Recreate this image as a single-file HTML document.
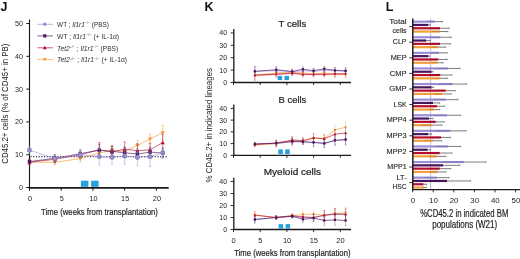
<!DOCTYPE html>
<html><head><meta charset="utf-8"><style>
html,body{margin:0;padding:0;background:#fff;width:520px;height:259px;overflow:hidden}
svg{display:block;will-change:transform}
text{font-family:"Liberation Sans", sans-serif}

</style></head><body>
<svg width="520" height="259" viewBox="0 0 520 259" font-family='"Liberation Sans", sans-serif'>
<rect width="520" height="259" fill="#fff"/>
<text x="0.6" y="11" font-size="12.5" text-anchor="start" font-weight="bold" font-style="normal" fill="#111" >J</text>
<line x1="29.50" y1="19.50" x2="29.50" y2="188.20" stroke="#1a1a1a" stroke-width="1.15" />
<line x1="26.30" y1="187.50" x2="29.50" y2="187.50" stroke="#1a1a1a" stroke-width="1.0" />
<text x="23" y="190.0" font-size="7.2" text-anchor="end" font-weight="normal" font-style="normal" fill="#1e1e1e" >0</text>
<line x1="26.30" y1="154.70" x2="29.50" y2="154.70" stroke="#1a1a1a" stroke-width="1.0" />
<text x="23" y="157.2" font-size="7.2" text-anchor="end" font-weight="normal" font-style="normal" fill="#1e1e1e" >10</text>
<line x1="26.30" y1="121.90" x2="29.50" y2="121.90" stroke="#1a1a1a" stroke-width="1.0" />
<text x="23" y="124.4" font-size="7.2" text-anchor="end" font-weight="normal" font-style="normal" fill="#1e1e1e" >20</text>
<line x1="26.30" y1="89.10" x2="29.50" y2="89.10" stroke="#1a1a1a" stroke-width="1.0" />
<text x="23" y="91.60000000000001" font-size="7.2" text-anchor="end" font-weight="normal" font-style="normal" fill="#1e1e1e" >30</text>
<line x1="26.30" y1="56.30" x2="29.50" y2="56.30" stroke="#1a1a1a" stroke-width="1.0" />
<text x="23" y="58.80000000000001" font-size="7.2" text-anchor="end" font-weight="normal" font-style="normal" fill="#1e1e1e" >40</text>
<line x1="26.30" y1="23.50" x2="29.50" y2="23.50" stroke="#1a1a1a" stroke-width="1.0" />
<text x="23" y="26.0" font-size="7.2" text-anchor="end" font-weight="normal" font-style="normal" fill="#1e1e1e" >50</text>
<line x1="28.80" y1="187.90" x2="168.70" y2="187.90" stroke="#1a1a1a" stroke-width="1.6" />
<line x1="29.50" y1="187.60" x2="29.50" y2="190.80" stroke="#1a1a1a" stroke-width="1.0" />
<text x="30.0" y="201.1" font-size="7.3" text-anchor="middle" font-weight="normal" font-style="normal" fill="#1e1e1e" >0</text>
<line x1="61.22" y1="187.60" x2="61.22" y2="190.80" stroke="#1a1a1a" stroke-width="1.0" />
<text x="61.724999999999994" y="201.1" font-size="7.3" text-anchor="middle" font-weight="normal" font-style="normal" fill="#1e1e1e" >5</text>
<line x1="92.95" y1="187.60" x2="92.95" y2="190.80" stroke="#1a1a1a" stroke-width="1.0" />
<text x="93.44999999999999" y="201.1" font-size="7.3" text-anchor="middle" font-weight="normal" font-style="normal" fill="#1e1e1e" >10</text>
<line x1="124.67" y1="187.60" x2="124.67" y2="190.80" stroke="#1a1a1a" stroke-width="1.0" />
<text x="125.175" y="201.1" font-size="7.3" text-anchor="middle" font-weight="normal" font-style="normal" fill="#1e1e1e" >15</text>
<line x1="156.40" y1="187.60" x2="156.40" y2="190.80" stroke="#1a1a1a" stroke-width="1.0" />
<text x="156.89999999999998" y="201.1" font-size="7.3" text-anchor="middle" font-weight="normal" font-style="normal" fill="#1e1e1e" >20</text>
<text x="41.1" y="215" font-size="9.8" text-anchor="start" font-weight="normal" font-style="normal" fill="#1e1e1e" textLength="116.8" lengthAdjust="spacingAndGlyphs" stroke="#1e1e1e" stroke-width="0.2">Time (weeks from transplantation)</text>
<text transform="translate(8.3,163.8) rotate(-90)" font-size="9.8" fill="#1e1e1e" textLength="120.2" lengthAdjust="spacingAndGlyphs">CD45.2+ cells (% of CD45+ in PB)</text>
<line x1="30.50" y1="156.67" x2="168.00" y2="156.67" stroke="#2a2a3a" stroke-width="1.1" stroke-dasharray="1.1 1.6"/>
<rect x="80.90" y="180.70" width="7.50" height="6.10" fill="#27a1dc" />
<rect x="91.10" y="180.70" width="7.50" height="6.10" fill="#27a1dc" />
<line x1="29.50" y1="159.62" x2="29.50" y2="164.87" stroke="#f09a30" stroke-width="0.7" opacity="0.75"/>
<line x1="28.30" y1="159.62" x2="30.70" y2="159.62" stroke="#f09a30" stroke-width="0.6" opacity="0.75"/>
<line x1="28.30" y1="164.87" x2="30.70" y2="164.87" stroke="#f09a30" stroke-width="0.6" opacity="0.75"/>
<line x1="54.88" y1="159.62" x2="54.88" y2="164.87" stroke="#f09a30" stroke-width="0.7" opacity="0.75"/>
<line x1="53.68" y1="159.62" x2="56.08" y2="159.62" stroke="#f09a30" stroke-width="0.6" opacity="0.75"/>
<line x1="53.68" y1="164.87" x2="56.08" y2="164.87" stroke="#f09a30" stroke-width="0.6" opacity="0.75"/>
<line x1="80.26" y1="155.36" x2="80.26" y2="161.92" stroke="#f09a30" stroke-width="0.7" opacity="0.75"/>
<line x1="79.06" y1="155.36" x2="81.46" y2="155.36" stroke="#f09a30" stroke-width="0.6" opacity="0.75"/>
<line x1="79.06" y1="161.92" x2="81.46" y2="161.92" stroke="#f09a30" stroke-width="0.6" opacity="0.75"/>
<line x1="99.30" y1="148.14" x2="99.30" y2="157.98" stroke="#f09a30" stroke-width="0.7" opacity="0.75"/>
<line x1="98.09" y1="148.14" x2="100.50" y2="148.14" stroke="#f09a30" stroke-width="0.6" opacity="0.75"/>
<line x1="98.09" y1="157.98" x2="100.50" y2="157.98" stroke="#f09a30" stroke-width="0.6" opacity="0.75"/>
<line x1="111.98" y1="145.19" x2="111.98" y2="155.03" stroke="#f09a30" stroke-width="0.7" opacity="0.75"/>
<line x1="110.78" y1="145.19" x2="113.19" y2="145.19" stroke="#f09a30" stroke-width="0.6" opacity="0.75"/>
<line x1="110.78" y1="155.03" x2="113.19" y2="155.03" stroke="#f09a30" stroke-width="0.6" opacity="0.75"/>
<line x1="124.67" y1="146.50" x2="124.67" y2="156.34" stroke="#f09a30" stroke-width="0.7" opacity="0.75"/>
<line x1="123.47" y1="146.50" x2="125.88" y2="146.50" stroke="#f09a30" stroke-width="0.6" opacity="0.75"/>
<line x1="123.47" y1="156.34" x2="125.88" y2="156.34" stroke="#f09a30" stroke-width="0.6" opacity="0.75"/>
<line x1="137.37" y1="140.60" x2="137.37" y2="150.44" stroke="#f09a30" stroke-width="0.7" opacity="0.75"/>
<line x1="136.17" y1="140.60" x2="138.56" y2="140.60" stroke="#f09a30" stroke-width="0.6" opacity="0.75"/>
<line x1="136.17" y1="150.44" x2="138.56" y2="150.44" stroke="#f09a30" stroke-width="0.6" opacity="0.75"/>
<line x1="150.06" y1="134.04" x2="150.06" y2="143.88" stroke="#f09a30" stroke-width="0.7" opacity="0.75"/>
<line x1="148.86" y1="134.04" x2="151.25" y2="134.04" stroke="#f09a30" stroke-width="0.6" opacity="0.75"/>
<line x1="148.86" y1="143.88" x2="151.25" y2="143.88" stroke="#f09a30" stroke-width="0.6" opacity="0.75"/>
<line x1="162.75" y1="125.51" x2="162.75" y2="139.94" stroke="#f09a30" stroke-width="0.7" opacity="0.75"/>
<line x1="161.55" y1="125.51" x2="163.94" y2="125.51" stroke="#f09a30" stroke-width="0.6" opacity="0.75"/>
<line x1="161.55" y1="139.94" x2="163.94" y2="139.94" stroke="#f09a30" stroke-width="0.6" opacity="0.75"/>
<polyline points="29.50,162.24 54.88,162.24 80.26,158.64 99.30,153.06 111.98,150.11 124.67,151.42 137.37,145.52 150.06,138.96 162.75,132.72" fill="none" stroke="#f09a30" stroke-width="0.75" stroke-linejoin="round" opacity="0.85"/>
<polygon points="29.50,164.34 31.60,160.67 27.40,160.67" fill="#f09a30"/>
<polygon points="54.88,164.34 56.98,160.67 52.78,160.67" fill="#f09a30"/>
<polygon points="80.26,160.74 82.36,157.06 78.16,157.06" fill="#f09a30"/>
<polygon points="99.30,155.16 101.39,151.49 97.20,151.49" fill="#f09a30"/>
<polygon points="111.98,152.21 114.08,148.53 109.89,148.53" fill="#f09a30"/>
<polygon points="124.67,153.52 126.77,149.85 122.58,149.85" fill="#f09a30"/>
<polygon points="137.37,147.62 139.47,143.94 135.27,143.94" fill="#f09a30"/>
<polygon points="150.06,141.06 152.16,137.38 147.96,137.38" fill="#f09a30"/>
<polygon points="162.75,134.82 164.84,131.15 160.65,131.15" fill="#f09a30"/>
<line x1="29.50" y1="159.62" x2="29.50" y2="164.87" stroke="#b80f2e" stroke-width="0.7" opacity="0.75"/>
<line x1="28.30" y1="159.62" x2="30.70" y2="159.62" stroke="#b80f2e" stroke-width="0.6" opacity="0.75"/>
<line x1="28.30" y1="164.87" x2="30.70" y2="164.87" stroke="#b80f2e" stroke-width="0.6" opacity="0.75"/>
<line x1="54.88" y1="156.01" x2="54.88" y2="162.57" stroke="#b80f2e" stroke-width="0.7" opacity="0.75"/>
<line x1="53.68" y1="156.01" x2="56.08" y2="156.01" stroke="#b80f2e" stroke-width="0.6" opacity="0.75"/>
<line x1="53.68" y1="162.57" x2="56.08" y2="162.57" stroke="#b80f2e" stroke-width="0.6" opacity="0.75"/>
<line x1="80.26" y1="151.42" x2="80.26" y2="157.98" stroke="#b80f2e" stroke-width="0.7" opacity="0.75"/>
<line x1="79.06" y1="151.42" x2="81.46" y2="151.42" stroke="#b80f2e" stroke-width="0.6" opacity="0.75"/>
<line x1="79.06" y1="157.98" x2="81.46" y2="157.98" stroke="#b80f2e" stroke-width="0.6" opacity="0.75"/>
<line x1="99.30" y1="142.56" x2="99.30" y2="157.00" stroke="#b80f2e" stroke-width="0.7" opacity="0.75"/>
<line x1="98.09" y1="142.56" x2="100.50" y2="142.56" stroke="#b80f2e" stroke-width="0.6" opacity="0.75"/>
<line x1="98.09" y1="157.00" x2="100.50" y2="157.00" stroke="#b80f2e" stroke-width="0.6" opacity="0.75"/>
<line x1="111.98" y1="146.17" x2="111.98" y2="157.98" stroke="#b80f2e" stroke-width="0.7" opacity="0.75"/>
<line x1="110.78" y1="146.17" x2="113.19" y2="146.17" stroke="#b80f2e" stroke-width="0.6" opacity="0.75"/>
<line x1="110.78" y1="157.98" x2="113.19" y2="157.98" stroke="#b80f2e" stroke-width="0.6" opacity="0.75"/>
<line x1="124.67" y1="141.91" x2="124.67" y2="156.34" stroke="#b80f2e" stroke-width="0.7" opacity="0.75"/>
<line x1="123.47" y1="141.91" x2="125.88" y2="141.91" stroke="#b80f2e" stroke-width="0.6" opacity="0.75"/>
<line x1="123.47" y1="156.34" x2="125.88" y2="156.34" stroke="#b80f2e" stroke-width="0.6" opacity="0.75"/>
<line x1="137.37" y1="143.55" x2="137.37" y2="157.98" stroke="#b80f2e" stroke-width="0.7" opacity="0.75"/>
<line x1="136.17" y1="143.55" x2="138.56" y2="143.55" stroke="#b80f2e" stroke-width="0.6" opacity="0.75"/>
<line x1="136.17" y1="157.98" x2="138.56" y2="157.98" stroke="#b80f2e" stroke-width="0.6" opacity="0.75"/>
<line x1="150.06" y1="143.22" x2="150.06" y2="156.34" stroke="#b80f2e" stroke-width="0.7" opacity="0.75"/>
<line x1="148.86" y1="143.22" x2="151.25" y2="143.22" stroke="#b80f2e" stroke-width="0.6" opacity="0.75"/>
<line x1="148.86" y1="156.34" x2="151.25" y2="156.34" stroke="#b80f2e" stroke-width="0.6" opacity="0.75"/>
<line x1="162.75" y1="134.36" x2="162.75" y2="150.76" stroke="#b80f2e" stroke-width="0.7" opacity="0.75"/>
<line x1="161.55" y1="134.36" x2="163.94" y2="134.36" stroke="#b80f2e" stroke-width="0.6" opacity="0.75"/>
<line x1="161.55" y1="150.76" x2="163.94" y2="150.76" stroke="#b80f2e" stroke-width="0.6" opacity="0.75"/>
<polyline points="29.50,162.24 54.88,159.29 80.26,154.70 99.30,149.78 111.98,152.08 124.67,149.12 137.37,150.76 150.06,149.78 162.75,142.56" fill="none" stroke="#b80f2e" stroke-width="0.75" stroke-linejoin="round" opacity="0.85"/>
<polygon points="29.50,160.14 31.60,163.82 27.40,163.82" fill="#b80f2e"/>
<polygon points="54.88,157.19 56.98,160.87 52.78,160.87" fill="#b80f2e"/>
<polygon points="80.26,152.60 82.36,156.27 78.16,156.27" fill="#b80f2e"/>
<polygon points="99.30,147.68 101.39,151.35 97.20,151.35" fill="#b80f2e"/>
<polygon points="111.98,149.98 114.08,153.65 109.89,153.65" fill="#b80f2e"/>
<polygon points="124.67,147.02 126.77,150.70 122.58,150.70" fill="#b80f2e"/>
<polygon points="137.37,148.66 139.47,152.34 135.27,152.34" fill="#b80f2e"/>
<polygon points="150.06,147.68 152.16,151.35 147.96,151.35" fill="#b80f2e"/>
<polygon points="162.75,140.46 164.84,144.14 160.65,144.14" fill="#b80f2e"/>
<line x1="29.50" y1="158.96" x2="29.50" y2="164.21" stroke="#4b1660" stroke-width="0.7" opacity="0.75"/>
<line x1="28.30" y1="158.96" x2="30.70" y2="158.96" stroke="#4b1660" stroke-width="0.6" opacity="0.75"/>
<line x1="28.30" y1="164.21" x2="30.70" y2="164.21" stroke="#4b1660" stroke-width="0.6" opacity="0.75"/>
<line x1="54.88" y1="154.37" x2="54.88" y2="162.24" stroke="#4b1660" stroke-width="0.7" opacity="0.75"/>
<line x1="53.68" y1="154.37" x2="56.08" y2="154.37" stroke="#4b1660" stroke-width="0.6" opacity="0.75"/>
<line x1="53.68" y1="162.24" x2="56.08" y2="162.24" stroke="#4b1660" stroke-width="0.6" opacity="0.75"/>
<line x1="80.26" y1="149.78" x2="80.26" y2="157.65" stroke="#4b1660" stroke-width="0.7" opacity="0.75"/>
<line x1="79.06" y1="149.78" x2="81.46" y2="149.78" stroke="#4b1660" stroke-width="0.6" opacity="0.75"/>
<line x1="79.06" y1="157.65" x2="81.46" y2="157.65" stroke="#4b1660" stroke-width="0.6" opacity="0.75"/>
<line x1="99.30" y1="144.20" x2="99.30" y2="156.01" stroke="#4b1660" stroke-width="0.7" opacity="0.75"/>
<line x1="98.09" y1="144.20" x2="100.50" y2="144.20" stroke="#4b1660" stroke-width="0.6" opacity="0.75"/>
<line x1="98.09" y1="156.01" x2="100.50" y2="156.01" stroke="#4b1660" stroke-width="0.6" opacity="0.75"/>
<line x1="111.98" y1="146.50" x2="111.98" y2="156.34" stroke="#4b1660" stroke-width="0.7" opacity="0.75"/>
<line x1="110.78" y1="146.50" x2="113.19" y2="146.50" stroke="#4b1660" stroke-width="0.6" opacity="0.75"/>
<line x1="110.78" y1="156.34" x2="113.19" y2="156.34" stroke="#4b1660" stroke-width="0.6" opacity="0.75"/>
<line x1="124.67" y1="147.81" x2="124.67" y2="157.65" stroke="#4b1660" stroke-width="0.7" opacity="0.75"/>
<line x1="123.47" y1="147.81" x2="125.88" y2="147.81" stroke="#4b1660" stroke-width="0.6" opacity="0.75"/>
<line x1="123.47" y1="157.65" x2="125.88" y2="157.65" stroke="#4b1660" stroke-width="0.6" opacity="0.75"/>
<line x1="137.37" y1="149.12" x2="137.37" y2="158.96" stroke="#4b1660" stroke-width="0.7" opacity="0.75"/>
<line x1="136.17" y1="149.12" x2="138.56" y2="149.12" stroke="#4b1660" stroke-width="0.6" opacity="0.75"/>
<line x1="136.17" y1="158.96" x2="138.56" y2="158.96" stroke="#4b1660" stroke-width="0.6" opacity="0.75"/>
<line x1="150.06" y1="147.16" x2="150.06" y2="157.00" stroke="#4b1660" stroke-width="0.7" opacity="0.75"/>
<line x1="148.86" y1="147.16" x2="151.25" y2="147.16" stroke="#4b1660" stroke-width="0.6" opacity="0.75"/>
<line x1="148.86" y1="157.00" x2="151.25" y2="157.00" stroke="#4b1660" stroke-width="0.6" opacity="0.75"/>
<line x1="162.75" y1="148.14" x2="162.75" y2="157.98" stroke="#4b1660" stroke-width="0.7" opacity="0.75"/>
<line x1="161.55" y1="148.14" x2="163.94" y2="148.14" stroke="#4b1660" stroke-width="0.6" opacity="0.75"/>
<line x1="161.55" y1="157.98" x2="163.94" y2="157.98" stroke="#4b1660" stroke-width="0.6" opacity="0.75"/>
<polyline points="29.50,161.59 54.88,158.31 80.26,153.72 99.30,150.11 111.98,151.42 124.67,152.73 137.37,154.04 150.06,152.08 162.75,153.06" fill="none" stroke="#4b1660" stroke-width="0.75" stroke-linejoin="round" opacity="0.85"/>
<rect x="27.82" y="159.91" width="3.36" height="3.36" fill="#4b1660" />
<rect x="53.20" y="156.63" width="3.36" height="3.36" fill="#4b1660" />
<rect x="78.58" y="152.04" width="3.36" height="3.36" fill="#4b1660" />
<rect x="97.61" y="148.43" width="3.36" height="3.36" fill="#4b1660" />
<rect x="110.30" y="149.74" width="3.36" height="3.36" fill="#4b1660" />
<rect x="122.99" y="151.05" width="3.36" height="3.36" fill="#4b1660" />
<rect x="135.69" y="152.36" width="3.36" height="3.36" fill="#4b1660" />
<rect x="148.38" y="150.40" width="3.36" height="3.36" fill="#4b1660" />
<rect x="161.06" y="151.38" width="3.36" height="3.36" fill="#4b1660" />
<line x1="29.50" y1="146.17" x2="29.50" y2="154.04" stroke="#9a8fd6" stroke-width="0.7" opacity="0.75"/>
<line x1="28.30" y1="146.17" x2="30.70" y2="146.17" stroke="#9a8fd6" stroke-width="0.6" opacity="0.75"/>
<line x1="28.30" y1="154.04" x2="30.70" y2="154.04" stroke="#9a8fd6" stroke-width="0.6" opacity="0.75"/>
<line x1="54.88" y1="155.36" x2="54.88" y2="161.92" stroke="#9a8fd6" stroke-width="0.7" opacity="0.75"/>
<line x1="53.68" y1="155.36" x2="56.08" y2="155.36" stroke="#9a8fd6" stroke-width="0.6" opacity="0.75"/>
<line x1="53.68" y1="161.92" x2="56.08" y2="161.92" stroke="#9a8fd6" stroke-width="0.6" opacity="0.75"/>
<line x1="80.26" y1="151.42" x2="80.26" y2="157.98" stroke="#9a8fd6" stroke-width="0.7" opacity="0.75"/>
<line x1="79.06" y1="151.42" x2="81.46" y2="151.42" stroke="#9a8fd6" stroke-width="0.6" opacity="0.75"/>
<line x1="79.06" y1="157.98" x2="81.46" y2="157.98" stroke="#9a8fd6" stroke-width="0.6" opacity="0.75"/>
<line x1="99.30" y1="148.47" x2="99.30" y2="164.87" stroke="#9a8fd6" stroke-width="0.7" opacity="0.75"/>
<line x1="98.09" y1="148.47" x2="100.50" y2="148.47" stroke="#9a8fd6" stroke-width="0.6" opacity="0.75"/>
<line x1="98.09" y1="164.87" x2="100.50" y2="164.87" stroke="#9a8fd6" stroke-width="0.6" opacity="0.75"/>
<line x1="111.98" y1="150.76" x2="111.98" y2="163.88" stroke="#9a8fd6" stroke-width="0.7" opacity="0.75"/>
<line x1="110.78" y1="150.76" x2="113.19" y2="150.76" stroke="#9a8fd6" stroke-width="0.6" opacity="0.75"/>
<line x1="110.78" y1="163.88" x2="113.19" y2="163.88" stroke="#9a8fd6" stroke-width="0.6" opacity="0.75"/>
<line x1="124.67" y1="147.81" x2="124.67" y2="164.21" stroke="#9a8fd6" stroke-width="0.7" opacity="0.75"/>
<line x1="123.47" y1="147.81" x2="125.88" y2="147.81" stroke="#9a8fd6" stroke-width="0.6" opacity="0.75"/>
<line x1="123.47" y1="164.21" x2="125.88" y2="164.21" stroke="#9a8fd6" stroke-width="0.6" opacity="0.75"/>
<line x1="137.37" y1="149.12" x2="137.37" y2="165.52" stroke="#9a8fd6" stroke-width="0.7" opacity="0.75"/>
<line x1="136.17" y1="149.12" x2="138.56" y2="149.12" stroke="#9a8fd6" stroke-width="0.6" opacity="0.75"/>
<line x1="136.17" y1="165.52" x2="138.56" y2="165.52" stroke="#9a8fd6" stroke-width="0.6" opacity="0.75"/>
<line x1="150.06" y1="146.83" x2="150.06" y2="166.51" stroke="#9a8fd6" stroke-width="0.7" opacity="0.75"/>
<line x1="148.86" y1="146.83" x2="151.25" y2="146.83" stroke="#9a8fd6" stroke-width="0.6" opacity="0.75"/>
<line x1="148.86" y1="166.51" x2="151.25" y2="166.51" stroke="#9a8fd6" stroke-width="0.6" opacity="0.75"/>
<line x1="162.75" y1="147.81" x2="162.75" y2="157.65" stroke="#9a8fd6" stroke-width="0.7" opacity="0.75"/>
<line x1="161.55" y1="147.81" x2="163.94" y2="147.81" stroke="#9a8fd6" stroke-width="0.6" opacity="0.75"/>
<line x1="161.55" y1="157.65" x2="163.94" y2="157.65" stroke="#9a8fd6" stroke-width="0.6" opacity="0.75"/>
<polyline points="29.50,150.11 54.88,158.64 80.26,154.70 99.30,156.67 111.98,157.32 124.67,156.01 137.37,157.32 150.06,156.67 162.75,152.73" fill="none" stroke="#9a8fd6" stroke-width="0.75" stroke-linejoin="round" opacity="0.85"/>
<rect x="27.61" y="148.22" width="3.78" height="3.78" rx="0.84" fill="#9a8fd6" stroke="#6f6a9a" stroke-width="0.5"/>
<rect x="52.99" y="156.75" width="3.78" height="3.78" rx="0.84" fill="#9a8fd6" stroke="#6f6a9a" stroke-width="0.5"/>
<rect x="78.37" y="152.81" width="3.78" height="3.78" rx="0.84" fill="#9a8fd6" stroke="#6f6a9a" stroke-width="0.5"/>
<rect x="97.41" y="154.78" width="3.78" height="3.78" rx="0.84" fill="#9a8fd6" stroke="#6f6a9a" stroke-width="0.5"/>
<rect x="110.09" y="155.43" width="3.78" height="3.78" rx="0.84" fill="#9a8fd6" stroke="#6f6a9a" stroke-width="0.5"/>
<rect x="122.78" y="154.12" width="3.78" height="3.78" rx="0.84" fill="#9a8fd6" stroke="#6f6a9a" stroke-width="0.5"/>
<rect x="135.48" y="155.43" width="3.78" height="3.78" rx="0.84" fill="#9a8fd6" stroke="#6f6a9a" stroke-width="0.5"/>
<rect x="148.17" y="154.78" width="3.78" height="3.78" rx="0.84" fill="#9a8fd6" stroke="#6f6a9a" stroke-width="0.5"/>
<rect x="160.86" y="150.84" width="3.78" height="3.78" rx="0.84" fill="#9a8fd6" stroke="#6f6a9a" stroke-width="0.5"/>
<line x1="37.30" y1="24.30" x2="52.90" y2="24.30" stroke="#9a8fd6" stroke-width="0.9" opacity="0.75"/>
<circle cx="44.80" cy="24.30" r="1.70" fill="#9a8fd6"/>
<text x="57.1" y="27.00" font-size="7.4" fill="#2e2e2e" textLength="51.8" lengthAdjust="spacingAndGlyphs">WT ; <tspan font-style="italic">Il1r1</tspan><tspan font-size="4.2" dy="-2.8" fill="#555">−/−</tspan><tspan dy="2.8"> (PBS)</tspan></text>
<line x1="37.30" y1="35.90" x2="52.90" y2="35.90" stroke="#4b1660" stroke-width="0.9" opacity="0.75"/>
<rect x="43.20" y="34.30" width="3.20" height="3.20" fill="#4b1660" />
<text x="57.1" y="38.60" font-size="7.4" fill="#2e2e2e" textLength="62" lengthAdjust="spacingAndGlyphs">WT ; <tspan font-style="italic">Il1r1</tspan><tspan font-size="4.2" dy="-2.8" fill="#555">−/−</tspan><tspan dy="2.8"> (+ IL-1α)</tspan></text>
<line x1="37.30" y1="47.80" x2="52.90" y2="47.80" stroke="#b80f2e" stroke-width="0.9" opacity="0.75"/>
<polygon points="44.80,45.80 46.80,49.30 42.80,49.30" fill="#b80f2e"/>
<text x="57.1" y="50.50" font-size="7.4" fill="#2e2e2e" textLength="61" lengthAdjust="spacingAndGlyphs"><tspan font-style="italic">Tet2</tspan><tspan font-size="4.2" dy="-2.8" fill="#555">+/−</tspan><tspan dy="2.8"> ; </tspan><tspan font-style="italic">Il1r1</tspan><tspan font-size="4.2" dy="-2.8" fill="#555">−/−</tspan><tspan dy="2.8"> (PBS)</tspan></text>
<line x1="37.30" y1="59.60" x2="52.90" y2="59.60" stroke="#f4a03a" stroke-width="0.9" opacity="0.75"/>
<polygon points="44.80,61.60 46.80,58.10 42.80,58.10" fill="#f4a03a"/>
<text x="57.1" y="62.30" font-size="7.4" fill="#2e2e2e" textLength="70" lengthAdjust="spacingAndGlyphs"><tspan font-style="italic">Tet2</tspan><tspan font-size="4.2" dy="-2.8" fill="#555">+/−</tspan><tspan dy="2.8"> ; </tspan><tspan font-style="italic">Il1r1</tspan><tspan font-size="4.2" dy="-2.8" fill="#555">−/−</tspan><tspan dy="2.8"> (+ IL-1α)</tspan></text>
<text x="204.6" y="11" font-size="12.5" text-anchor="start" font-weight="bold" font-style="normal" fill="#111" >K</text>
<text transform="translate(212.4,182.4) rotate(-90)" font-size="9.5" fill="#1e1e1e" textLength="114.4" lengthAdjust="spacingAndGlyphs">% CD45.2+ in indicated lineages</text>
<text x="292.4" y="26.650000000000002" font-size="9.3" text-anchor="middle" font-weight="normal" font-style="normal" fill="#1e1e1e" textLength="27.6" lengthAdjust="spacingAndGlyphs" stroke="#1e1e1e" stroke-width="0.2">T cells</text>
<line x1="233.80" y1="29.10" x2="233.80" y2="83.10" stroke="#1a1a1a" stroke-width="1.3" />
<line x1="230.60" y1="82.50" x2="233.80" y2="82.50" stroke="#1a1a1a" stroke-width="0.9" />
<text x="227.2" y="84.9" font-size="7.1" text-anchor="end" font-weight="normal" font-style="normal" fill="#1e1e1e" >0</text>
<line x1="230.60" y1="70.10" x2="233.80" y2="70.10" stroke="#1a1a1a" stroke-width="0.9" />
<text x="227.2" y="72.5" font-size="7.1" text-anchor="end" font-weight="normal" font-style="normal" fill="#1e1e1e" >10</text>
<line x1="230.60" y1="57.70" x2="233.80" y2="57.70" stroke="#1a1a1a" stroke-width="0.9" />
<text x="227.2" y="60.1" font-size="7.1" text-anchor="end" font-weight="normal" font-style="normal" fill="#1e1e1e" >20</text>
<line x1="230.60" y1="45.30" x2="233.80" y2="45.30" stroke="#1a1a1a" stroke-width="0.9" />
<text x="227.2" y="47.699999999999996" font-size="7.1" text-anchor="end" font-weight="normal" font-style="normal" fill="#1e1e1e" >30</text>
<line x1="230.60" y1="32.90" x2="233.80" y2="32.90" stroke="#1a1a1a" stroke-width="0.9" />
<text x="227.2" y="35.3" font-size="7.1" text-anchor="end" font-weight="normal" font-style="normal" fill="#1e1e1e" >40</text>
<line x1="233.00" y1="82.50" x2="351.00" y2="82.50" stroke="#1a1a1a" stroke-width="1.3" />
<line x1="233.50" y1="82.50" x2="233.50" y2="85.10" stroke="#1a1a1a" stroke-width="0.9" />
<line x1="260.20" y1="82.50" x2="260.20" y2="85.10" stroke="#1a1a1a" stroke-width="0.9" />
<line x1="286.90" y1="82.50" x2="286.90" y2="85.10" stroke="#1a1a1a" stroke-width="0.9" />
<line x1="313.60" y1="82.50" x2="313.60" y2="85.10" stroke="#1a1a1a" stroke-width="0.9" />
<line x1="340.30" y1="82.50" x2="340.30" y2="85.10" stroke="#1a1a1a" stroke-width="0.9" />
<rect x="277.60" y="75.90" width="4.50" height="4.20" fill="#27a1dc" />
<rect x="284.50" y="75.90" width="4.50" height="4.20" fill="#27a1dc" />
<polygon points="254.86,74.46 276.22,72.60 292.24,71.98 302.92,72.60 313.60,73.22 324.28,72.60 334.96,73.22 345.64,73.22 345.64,75.34 334.96,75.34 324.28,75.34 313.60,75.34 302.92,75.34 292.24,73.98 276.22,75.22 254.86,76.58" fill="#f2b9c2" opacity="0.8"/>
<line x1="254.86" y1="66.38" x2="254.86" y2="76.30" stroke="#9a8fd6" stroke-width="0.6" opacity="0.6"/>
<line x1="253.96" y1="66.38" x2="255.76" y2="66.38" stroke="#9a8fd6" stroke-width="0.5" opacity="0.6"/>
<line x1="253.96" y1="76.30" x2="255.76" y2="76.30" stroke="#9a8fd6" stroke-width="0.5" opacity="0.6"/>
<line x1="276.22" y1="67.62" x2="276.22" y2="73.82" stroke="#9a8fd6" stroke-width="0.6" opacity="0.6"/>
<line x1="275.32" y1="67.62" x2="277.12" y2="67.62" stroke="#9a8fd6" stroke-width="0.5" opacity="0.6"/>
<line x1="275.32" y1="73.82" x2="277.12" y2="73.82" stroke="#9a8fd6" stroke-width="0.5" opacity="0.6"/>
<line x1="292.24" y1="69.11" x2="292.24" y2="74.07" stroke="#9a8fd6" stroke-width="0.6" opacity="0.6"/>
<line x1="291.34" y1="69.11" x2="293.14" y2="69.11" stroke="#9a8fd6" stroke-width="0.5" opacity="0.6"/>
<line x1="291.34" y1="74.07" x2="293.14" y2="74.07" stroke="#9a8fd6" stroke-width="0.5" opacity="0.6"/>
<line x1="302.92" y1="68.24" x2="302.92" y2="73.20" stroke="#9a8fd6" stroke-width="0.6" opacity="0.6"/>
<line x1="302.02" y1="68.24" x2="303.82" y2="68.24" stroke="#9a8fd6" stroke-width="0.5" opacity="0.6"/>
<line x1="302.02" y1="73.20" x2="303.82" y2="73.20" stroke="#9a8fd6" stroke-width="0.5" opacity="0.6"/>
<line x1="313.60" y1="68.86" x2="313.60" y2="73.82" stroke="#9a8fd6" stroke-width="0.6" opacity="0.6"/>
<line x1="312.70" y1="68.86" x2="314.50" y2="68.86" stroke="#9a8fd6" stroke-width="0.5" opacity="0.6"/>
<line x1="312.70" y1="73.82" x2="314.50" y2="73.82" stroke="#9a8fd6" stroke-width="0.5" opacity="0.6"/>
<line x1="324.28" y1="67.87" x2="324.28" y2="72.83" stroke="#9a8fd6" stroke-width="0.6" opacity="0.6"/>
<line x1="323.38" y1="67.87" x2="325.18" y2="67.87" stroke="#9a8fd6" stroke-width="0.5" opacity="0.6"/>
<line x1="323.38" y1="72.83" x2="325.18" y2="72.83" stroke="#9a8fd6" stroke-width="0.5" opacity="0.6"/>
<line x1="334.96" y1="67.62" x2="334.96" y2="73.82" stroke="#9a8fd6" stroke-width="0.6" opacity="0.6"/>
<line x1="334.06" y1="67.62" x2="335.86" y2="67.62" stroke="#9a8fd6" stroke-width="0.5" opacity="0.6"/>
<line x1="334.06" y1="73.82" x2="335.86" y2="73.82" stroke="#9a8fd6" stroke-width="0.5" opacity="0.6"/>
<line x1="345.64" y1="68.24" x2="345.64" y2="74.44" stroke="#9a8fd6" stroke-width="0.6" opacity="0.6"/>
<line x1="344.74" y1="68.24" x2="346.54" y2="68.24" stroke="#9a8fd6" stroke-width="0.5" opacity="0.6"/>
<line x1="344.74" y1="74.44" x2="346.54" y2="74.44" stroke="#9a8fd6" stroke-width="0.5" opacity="0.6"/>
<polyline points="254.86,71.34 276.22,70.72 292.24,71.59 302.92,70.72 313.60,71.34 324.28,70.35 334.96,70.72 345.64,71.34" fill="none" stroke="#9a8fd6" stroke-width="0.75" stroke-linejoin="round" opacity="0.9"/>
<circle cx="254.86" cy="71.34" r="1.19" fill="#9a8fd6"/>
<circle cx="276.22" cy="70.72" r="1.19" fill="#9a8fd6"/>
<circle cx="292.24" cy="71.59" r="1.19" fill="#9a8fd6"/>
<circle cx="302.92" cy="70.72" r="1.19" fill="#9a8fd6"/>
<circle cx="313.60" cy="71.34" r="1.19" fill="#9a8fd6"/>
<circle cx="324.28" cy="70.35" r="1.19" fill="#9a8fd6"/>
<circle cx="334.96" cy="70.72" r="1.19" fill="#9a8fd6"/>
<circle cx="345.64" cy="71.34" r="1.19" fill="#9a8fd6"/>
<line x1="254.86" y1="70.72" x2="254.86" y2="80.64" stroke="#f4a03a" stroke-width="0.6" opacity="0.6"/>
<line x1="253.96" y1="70.72" x2="255.76" y2="70.72" stroke="#f4a03a" stroke-width="0.5" opacity="0.6"/>
<line x1="253.96" y1="80.64" x2="255.76" y2="80.64" stroke="#f4a03a" stroke-width="0.5" opacity="0.6"/>
<line x1="276.22" y1="70.10" x2="276.22" y2="76.30" stroke="#f4a03a" stroke-width="0.6" opacity="0.6"/>
<line x1="275.32" y1="70.10" x2="277.12" y2="70.10" stroke="#f4a03a" stroke-width="0.5" opacity="0.6"/>
<line x1="275.32" y1="76.30" x2="277.12" y2="76.30" stroke="#f4a03a" stroke-width="0.5" opacity="0.6"/>
<line x1="292.24" y1="70.10" x2="292.24" y2="75.06" stroke="#f4a03a" stroke-width="0.6" opacity="0.6"/>
<line x1="291.34" y1="70.10" x2="293.14" y2="70.10" stroke="#f4a03a" stroke-width="0.5" opacity="0.6"/>
<line x1="291.34" y1="75.06" x2="293.14" y2="75.06" stroke="#f4a03a" stroke-width="0.5" opacity="0.6"/>
<line x1="302.92" y1="70.72" x2="302.92" y2="75.68" stroke="#f4a03a" stroke-width="0.6" opacity="0.6"/>
<line x1="302.02" y1="70.72" x2="303.82" y2="70.72" stroke="#f4a03a" stroke-width="0.5" opacity="0.6"/>
<line x1="302.02" y1="75.68" x2="303.82" y2="75.68" stroke="#f4a03a" stroke-width="0.5" opacity="0.6"/>
<line x1="313.60" y1="71.34" x2="313.60" y2="76.30" stroke="#f4a03a" stroke-width="0.6" opacity="0.6"/>
<line x1="312.70" y1="71.34" x2="314.50" y2="71.34" stroke="#f4a03a" stroke-width="0.5" opacity="0.6"/>
<line x1="312.70" y1="76.30" x2="314.50" y2="76.30" stroke="#f4a03a" stroke-width="0.5" opacity="0.6"/>
<line x1="324.28" y1="70.72" x2="324.28" y2="75.68" stroke="#f4a03a" stroke-width="0.6" opacity="0.6"/>
<line x1="323.38" y1="70.72" x2="325.18" y2="70.72" stroke="#f4a03a" stroke-width="0.5" opacity="0.6"/>
<line x1="323.38" y1="75.68" x2="325.18" y2="75.68" stroke="#f4a03a" stroke-width="0.5" opacity="0.6"/>
<line x1="334.96" y1="71.34" x2="334.96" y2="77.54" stroke="#f4a03a" stroke-width="0.6" opacity="0.6"/>
<line x1="334.06" y1="71.34" x2="335.86" y2="71.34" stroke="#f4a03a" stroke-width="0.5" opacity="0.6"/>
<line x1="334.06" y1="77.54" x2="335.86" y2="77.54" stroke="#f4a03a" stroke-width="0.5" opacity="0.6"/>
<line x1="345.64" y1="71.34" x2="345.64" y2="77.54" stroke="#f4a03a" stroke-width="0.6" opacity="0.6"/>
<line x1="344.74" y1="71.34" x2="346.54" y2="71.34" stroke="#f4a03a" stroke-width="0.5" opacity="0.6"/>
<line x1="344.74" y1="77.54" x2="346.54" y2="77.54" stroke="#f4a03a" stroke-width="0.5" opacity="0.6"/>
<polyline points="254.86,75.68 276.22,73.20 292.24,72.58 302.92,73.20 313.60,73.82 324.28,73.20 334.96,74.44 345.64,74.44" fill="none" stroke="#f4a03a" stroke-width="0.75" stroke-linejoin="round" opacity="0.9"/>
<polygon points="254.86,77.08 256.26,74.63 253.46,74.63" fill="#f4a03a"/>
<polygon points="276.22,74.60 277.62,72.15 274.82,72.15" fill="#f4a03a"/>
<polygon points="292.24,73.98 293.64,71.53 290.84,71.53" fill="#f4a03a"/>
<polygon points="302.92,74.60 304.32,72.15 301.52,72.15" fill="#f4a03a"/>
<polygon points="313.60,75.22 315.00,72.77 312.20,72.77" fill="#f4a03a"/>
<polygon points="324.28,74.60 325.68,72.15 322.88,72.15" fill="#f4a03a"/>
<polygon points="334.96,75.84 336.36,73.39 333.56,73.39" fill="#f4a03a"/>
<polygon points="345.64,75.84 347.04,73.39 344.24,73.39" fill="#f4a03a"/>
<line x1="254.86" y1="70.10" x2="254.86" y2="80.02" stroke="#b80f2e" stroke-width="0.6" opacity="0.6"/>
<line x1="253.96" y1="70.10" x2="255.76" y2="70.10" stroke="#b80f2e" stroke-width="0.5" opacity="0.6"/>
<line x1="253.96" y1="80.02" x2="255.76" y2="80.02" stroke="#b80f2e" stroke-width="0.5" opacity="0.6"/>
<line x1="276.22" y1="71.22" x2="276.22" y2="77.42" stroke="#b80f2e" stroke-width="0.6" opacity="0.6"/>
<line x1="275.32" y1="71.22" x2="277.12" y2="71.22" stroke="#b80f2e" stroke-width="0.5" opacity="0.6"/>
<line x1="275.32" y1="77.42" x2="277.12" y2="77.42" stroke="#b80f2e" stroke-width="0.5" opacity="0.6"/>
<line x1="292.24" y1="70.60" x2="292.24" y2="75.56" stroke="#b80f2e" stroke-width="0.6" opacity="0.6"/>
<line x1="291.34" y1="70.60" x2="293.14" y2="70.60" stroke="#b80f2e" stroke-width="0.5" opacity="0.6"/>
<line x1="291.34" y1="75.56" x2="293.14" y2="75.56" stroke="#b80f2e" stroke-width="0.5" opacity="0.6"/>
<line x1="302.92" y1="71.96" x2="302.92" y2="76.92" stroke="#b80f2e" stroke-width="0.6" opacity="0.6"/>
<line x1="302.02" y1="71.96" x2="303.82" y2="71.96" stroke="#b80f2e" stroke-width="0.5" opacity="0.6"/>
<line x1="302.02" y1="76.92" x2="303.82" y2="76.92" stroke="#b80f2e" stroke-width="0.5" opacity="0.6"/>
<line x1="313.60" y1="71.96" x2="313.60" y2="76.92" stroke="#b80f2e" stroke-width="0.6" opacity="0.6"/>
<line x1="312.70" y1="71.96" x2="314.50" y2="71.96" stroke="#b80f2e" stroke-width="0.5" opacity="0.6"/>
<line x1="312.70" y1="76.92" x2="314.50" y2="76.92" stroke="#b80f2e" stroke-width="0.5" opacity="0.6"/>
<line x1="324.28" y1="71.96" x2="324.28" y2="76.92" stroke="#b80f2e" stroke-width="0.6" opacity="0.6"/>
<line x1="323.38" y1="71.96" x2="325.18" y2="71.96" stroke="#b80f2e" stroke-width="0.5" opacity="0.6"/>
<line x1="323.38" y1="76.92" x2="325.18" y2="76.92" stroke="#b80f2e" stroke-width="0.5" opacity="0.6"/>
<line x1="334.96" y1="70.72" x2="334.96" y2="76.92" stroke="#b80f2e" stroke-width="0.6" opacity="0.6"/>
<line x1="334.06" y1="70.72" x2="335.86" y2="70.72" stroke="#b80f2e" stroke-width="0.5" opacity="0.6"/>
<line x1="334.06" y1="76.92" x2="335.86" y2="76.92" stroke="#b80f2e" stroke-width="0.5" opacity="0.6"/>
<line x1="345.64" y1="70.72" x2="345.64" y2="76.92" stroke="#b80f2e" stroke-width="0.6" opacity="0.6"/>
<line x1="344.74" y1="70.72" x2="346.54" y2="70.72" stroke="#b80f2e" stroke-width="0.5" opacity="0.6"/>
<line x1="344.74" y1="76.92" x2="346.54" y2="76.92" stroke="#b80f2e" stroke-width="0.5" opacity="0.6"/>
<polyline points="254.86,75.06 276.22,74.32 292.24,73.08 302.92,74.44 313.60,74.44 324.28,74.44 334.96,73.82 345.64,73.82" fill="none" stroke="#b80f2e" stroke-width="0.75" stroke-linejoin="round" opacity="0.9"/>
<polygon points="254.86,73.66 256.26,76.11 253.46,76.11" fill="#b80f2e"/>
<polygon points="276.22,72.92 277.62,75.37 274.82,75.37" fill="#b80f2e"/>
<polygon points="292.24,71.68 293.64,74.13 290.84,74.13" fill="#b80f2e"/>
<polygon points="302.92,73.04 304.32,75.49 301.52,75.49" fill="#b80f2e"/>
<polygon points="313.60,73.04 315.00,75.49 312.20,75.49" fill="#b80f2e"/>
<polygon points="324.28,73.04 325.68,75.49 322.88,75.49" fill="#b80f2e"/>
<polygon points="334.96,72.42 336.36,74.87 333.56,74.87" fill="#b80f2e"/>
<polygon points="345.64,72.42 347.04,74.87 344.24,74.87" fill="#b80f2e"/>
<line x1="254.86" y1="66.38" x2="254.86" y2="76.30" stroke="#4b1660" stroke-width="0.6" opacity="0.6"/>
<line x1="253.96" y1="66.38" x2="255.76" y2="66.38" stroke="#4b1660" stroke-width="0.5" opacity="0.6"/>
<line x1="253.96" y1="76.30" x2="255.76" y2="76.30" stroke="#4b1660" stroke-width="0.5" opacity="0.6"/>
<line x1="276.22" y1="66.63" x2="276.22" y2="72.83" stroke="#4b1660" stroke-width="0.6" opacity="0.6"/>
<line x1="275.32" y1="66.63" x2="277.12" y2="66.63" stroke="#4b1660" stroke-width="0.5" opacity="0.6"/>
<line x1="275.32" y1="72.83" x2="277.12" y2="72.83" stroke="#4b1660" stroke-width="0.5" opacity="0.6"/>
<line x1="292.24" y1="69.11" x2="292.24" y2="74.07" stroke="#4b1660" stroke-width="0.6" opacity="0.6"/>
<line x1="291.34" y1="69.11" x2="293.14" y2="69.11" stroke="#4b1660" stroke-width="0.5" opacity="0.6"/>
<line x1="291.34" y1="74.07" x2="293.14" y2="74.07" stroke="#4b1660" stroke-width="0.5" opacity="0.6"/>
<line x1="302.92" y1="66.75" x2="302.92" y2="71.71" stroke="#4b1660" stroke-width="0.6" opacity="0.6"/>
<line x1="302.02" y1="66.75" x2="303.82" y2="66.75" stroke="#4b1660" stroke-width="0.5" opacity="0.6"/>
<line x1="302.02" y1="71.71" x2="303.82" y2="71.71" stroke="#4b1660" stroke-width="0.5" opacity="0.6"/>
<line x1="313.60" y1="68.24" x2="313.60" y2="73.20" stroke="#4b1660" stroke-width="0.6" opacity="0.6"/>
<line x1="312.70" y1="68.24" x2="314.50" y2="68.24" stroke="#4b1660" stroke-width="0.5" opacity="0.6"/>
<line x1="312.70" y1="73.20" x2="314.50" y2="73.20" stroke="#4b1660" stroke-width="0.5" opacity="0.6"/>
<line x1="324.28" y1="66.38" x2="324.28" y2="71.34" stroke="#4b1660" stroke-width="0.6" opacity="0.6"/>
<line x1="323.38" y1="66.38" x2="325.18" y2="66.38" stroke="#4b1660" stroke-width="0.5" opacity="0.6"/>
<line x1="323.38" y1="71.34" x2="325.18" y2="71.34" stroke="#4b1660" stroke-width="0.5" opacity="0.6"/>
<line x1="334.96" y1="67.25" x2="334.96" y2="73.45" stroke="#4b1660" stroke-width="0.6" opacity="0.6"/>
<line x1="334.06" y1="67.25" x2="335.86" y2="67.25" stroke="#4b1660" stroke-width="0.5" opacity="0.6"/>
<line x1="334.06" y1="73.45" x2="335.86" y2="73.45" stroke="#4b1660" stroke-width="0.5" opacity="0.6"/>
<line x1="345.64" y1="67.62" x2="345.64" y2="73.82" stroke="#4b1660" stroke-width="0.6" opacity="0.6"/>
<line x1="344.74" y1="67.62" x2="346.54" y2="67.62" stroke="#4b1660" stroke-width="0.5" opacity="0.6"/>
<line x1="344.74" y1="73.82" x2="346.54" y2="73.82" stroke="#4b1660" stroke-width="0.5" opacity="0.6"/>
<polyline points="254.86,71.34 276.22,69.73 292.24,71.59 302.92,69.23 313.60,70.72 324.28,68.86 334.96,70.35 345.64,70.72" fill="none" stroke="#4b1660" stroke-width="0.75" stroke-linejoin="round" opacity="0.9"/>
<rect x="253.74" y="70.22" width="2.24" height="2.24" fill="#4b1660" />
<rect x="275.10" y="68.61" width="2.24" height="2.24" fill="#4b1660" />
<rect x="291.12" y="70.47" width="2.24" height="2.24" fill="#4b1660" />
<rect x="301.80" y="68.11" width="2.24" height="2.24" fill="#4b1660" />
<rect x="312.48" y="69.60" width="2.24" height="2.24" fill="#4b1660" />
<rect x="323.16" y="67.74" width="2.24" height="2.24" fill="#4b1660" />
<rect x="333.84" y="69.23" width="2.24" height="2.24" fill="#4b1660" />
<rect x="344.52" y="69.60" width="2.24" height="2.24" fill="#4b1660" />
<text x="292.4" y="102.64999999999999" font-size="9.3" text-anchor="middle" font-weight="normal" font-style="normal" fill="#1e1e1e" textLength="27.8" lengthAdjust="spacingAndGlyphs" stroke="#1e1e1e" stroke-width="0.2">B cells</text>
<line x1="233.80" y1="104.60" x2="233.80" y2="155.90" stroke="#1a1a1a" stroke-width="1.3" />
<line x1="230.60" y1="155.30" x2="233.80" y2="155.30" stroke="#1a1a1a" stroke-width="0.9" />
<text x="227.2" y="157.70000000000002" font-size="7.1" text-anchor="end" font-weight="normal" font-style="normal" fill="#1e1e1e" >0</text>
<line x1="230.60" y1="143.58" x2="233.80" y2="143.58" stroke="#1a1a1a" stroke-width="0.9" />
<text x="227.2" y="145.97500000000002" font-size="7.1" text-anchor="end" font-weight="normal" font-style="normal" fill="#1e1e1e" >10</text>
<line x1="230.60" y1="131.85" x2="233.80" y2="131.85" stroke="#1a1a1a" stroke-width="0.9" />
<text x="227.2" y="134.25000000000003" font-size="7.1" text-anchor="end" font-weight="normal" font-style="normal" fill="#1e1e1e" >20</text>
<line x1="230.60" y1="120.12" x2="233.80" y2="120.12" stroke="#1a1a1a" stroke-width="0.9" />
<text x="227.2" y="122.525" font-size="7.1" text-anchor="end" font-weight="normal" font-style="normal" fill="#1e1e1e" >30</text>
<line x1="230.60" y1="108.40" x2="233.80" y2="108.40" stroke="#1a1a1a" stroke-width="0.9" />
<text x="227.2" y="110.80000000000001" font-size="7.1" text-anchor="end" font-weight="normal" font-style="normal" fill="#1e1e1e" >40</text>
<line x1="233.00" y1="155.30" x2="351.00" y2="155.30" stroke="#1a1a1a" stroke-width="1.3" />
<line x1="233.50" y1="155.30" x2="233.50" y2="157.90" stroke="#1a1a1a" stroke-width="0.9" />
<line x1="260.20" y1="155.30" x2="260.20" y2="157.90" stroke="#1a1a1a" stroke-width="0.9" />
<line x1="286.90" y1="155.30" x2="286.90" y2="157.90" stroke="#1a1a1a" stroke-width="0.9" />
<line x1="313.60" y1="155.30" x2="313.60" y2="157.90" stroke="#1a1a1a" stroke-width="0.9" />
<line x1="340.30" y1="155.30" x2="340.30" y2="157.90" stroke="#1a1a1a" stroke-width="0.9" />
<rect x="278.30" y="149.40" width="4.50" height="4.70" fill="#27a1dc" />
<rect x="285.20" y="149.40" width="4.50" height="4.70" fill="#27a1dc" />
<line x1="254.86" y1="142.40" x2="254.86" y2="145.92" stroke="#9a8fd6" stroke-width="0.6" opacity="0.6"/>
<line x1="253.96" y1="142.40" x2="255.76" y2="142.40" stroke="#9a8fd6" stroke-width="0.5" opacity="0.6"/>
<line x1="253.96" y1="145.92" x2="255.76" y2="145.92" stroke="#9a8fd6" stroke-width="0.5" opacity="0.6"/>
<line x1="276.22" y1="140.64" x2="276.22" y2="146.51" stroke="#9a8fd6" stroke-width="0.6" opacity="0.6"/>
<line x1="275.32" y1="140.64" x2="277.12" y2="140.64" stroke="#9a8fd6" stroke-width="0.5" opacity="0.6"/>
<line x1="275.32" y1="146.51" x2="277.12" y2="146.51" stroke="#9a8fd6" stroke-width="0.5" opacity="0.6"/>
<line x1="292.24" y1="138.30" x2="292.24" y2="145.33" stroke="#9a8fd6" stroke-width="0.6" opacity="0.6"/>
<line x1="291.34" y1="138.30" x2="293.14" y2="138.30" stroke="#9a8fd6" stroke-width="0.5" opacity="0.6"/>
<line x1="291.34" y1="145.33" x2="293.14" y2="145.33" stroke="#9a8fd6" stroke-width="0.5" opacity="0.6"/>
<line x1="302.92" y1="138.89" x2="302.92" y2="144.75" stroke="#9a8fd6" stroke-width="0.6" opacity="0.6"/>
<line x1="302.02" y1="138.89" x2="303.82" y2="138.89" stroke="#9a8fd6" stroke-width="0.5" opacity="0.6"/>
<line x1="302.02" y1="144.75" x2="303.82" y2="144.75" stroke="#9a8fd6" stroke-width="0.5" opacity="0.6"/>
<line x1="313.60" y1="138.30" x2="313.60" y2="146.51" stroke="#9a8fd6" stroke-width="0.6" opacity="0.6"/>
<line x1="312.70" y1="138.30" x2="314.50" y2="138.30" stroke="#9a8fd6" stroke-width="0.5" opacity="0.6"/>
<line x1="312.70" y1="146.51" x2="314.50" y2="146.51" stroke="#9a8fd6" stroke-width="0.5" opacity="0.6"/>
<line x1="324.28" y1="138.89" x2="324.28" y2="147.09" stroke="#9a8fd6" stroke-width="0.6" opacity="0.6"/>
<line x1="323.38" y1="138.89" x2="325.18" y2="138.89" stroke="#9a8fd6" stroke-width="0.5" opacity="0.6"/>
<line x1="323.38" y1="147.09" x2="325.18" y2="147.09" stroke="#9a8fd6" stroke-width="0.5" opacity="0.6"/>
<line x1="334.96" y1="135.95" x2="334.96" y2="145.33" stroke="#9a8fd6" stroke-width="0.6" opacity="0.6"/>
<line x1="334.06" y1="135.95" x2="335.86" y2="135.95" stroke="#9a8fd6" stroke-width="0.5" opacity="0.6"/>
<line x1="334.06" y1="145.33" x2="335.86" y2="145.33" stroke="#9a8fd6" stroke-width="0.5" opacity="0.6"/>
<line x1="345.64" y1="134.78" x2="345.64" y2="145.33" stroke="#9a8fd6" stroke-width="0.6" opacity="0.6"/>
<line x1="344.74" y1="134.78" x2="346.54" y2="134.78" stroke="#9a8fd6" stroke-width="0.5" opacity="0.6"/>
<line x1="344.74" y1="145.33" x2="346.54" y2="145.33" stroke="#9a8fd6" stroke-width="0.5" opacity="0.6"/>
<polyline points="254.86,144.16 276.22,143.58 292.24,141.82 302.92,141.82 313.60,142.40 324.28,142.99 334.96,140.64 345.64,140.06" fill="none" stroke="#9a8fd6" stroke-width="0.75" stroke-linejoin="round" opacity="0.9"/>
<circle cx="254.86" cy="144.16" r="1.19" fill="#9a8fd6"/>
<circle cx="276.22" cy="143.58" r="1.19" fill="#9a8fd6"/>
<circle cx="292.24" cy="141.82" r="1.19" fill="#9a8fd6"/>
<circle cx="302.92" cy="141.82" r="1.19" fill="#9a8fd6"/>
<circle cx="313.60" cy="142.40" r="1.19" fill="#9a8fd6"/>
<circle cx="324.28" cy="142.99" r="1.19" fill="#9a8fd6"/>
<circle cx="334.96" cy="140.64" r="1.19" fill="#9a8fd6"/>
<circle cx="345.64" cy="140.06" r="1.19" fill="#9a8fd6"/>
<line x1="254.86" y1="143.58" x2="254.86" y2="147.09" stroke="#f4a03a" stroke-width="0.6" opacity="0.6"/>
<line x1="253.96" y1="143.58" x2="255.76" y2="143.58" stroke="#f4a03a" stroke-width="0.5" opacity="0.6"/>
<line x1="253.96" y1="147.09" x2="255.76" y2="147.09" stroke="#f4a03a" stroke-width="0.5" opacity="0.6"/>
<line x1="276.22" y1="140.64" x2="276.22" y2="146.51" stroke="#f4a03a" stroke-width="0.6" opacity="0.6"/>
<line x1="275.32" y1="140.64" x2="277.12" y2="140.64" stroke="#f4a03a" stroke-width="0.5" opacity="0.6"/>
<line x1="275.32" y1="146.51" x2="277.12" y2="146.51" stroke="#f4a03a" stroke-width="0.5" opacity="0.6"/>
<line x1="292.24" y1="137.13" x2="292.24" y2="144.16" stroke="#f4a03a" stroke-width="0.6" opacity="0.6"/>
<line x1="291.34" y1="137.13" x2="293.14" y2="137.13" stroke="#f4a03a" stroke-width="0.5" opacity="0.6"/>
<line x1="291.34" y1="144.16" x2="293.14" y2="144.16" stroke="#f4a03a" stroke-width="0.5" opacity="0.6"/>
<line x1="302.92" y1="138.30" x2="302.92" y2="144.16" stroke="#f4a03a" stroke-width="0.6" opacity="0.6"/>
<line x1="302.02" y1="138.30" x2="303.82" y2="138.30" stroke="#f4a03a" stroke-width="0.5" opacity="0.6"/>
<line x1="302.02" y1="144.16" x2="303.82" y2="144.16" stroke="#f4a03a" stroke-width="0.5" opacity="0.6"/>
<line x1="313.60" y1="134.20" x2="313.60" y2="142.40" stroke="#f4a03a" stroke-width="0.6" opacity="0.6"/>
<line x1="312.70" y1="134.20" x2="314.50" y2="134.20" stroke="#f4a03a" stroke-width="0.5" opacity="0.6"/>
<line x1="312.70" y1="142.40" x2="314.50" y2="142.40" stroke="#f4a03a" stroke-width="0.5" opacity="0.6"/>
<line x1="324.28" y1="134.20" x2="324.28" y2="142.40" stroke="#f4a03a" stroke-width="0.6" opacity="0.6"/>
<line x1="323.38" y1="134.20" x2="325.18" y2="134.20" stroke="#f4a03a" stroke-width="0.5" opacity="0.6"/>
<line x1="323.38" y1="142.40" x2="325.18" y2="142.40" stroke="#f4a03a" stroke-width="0.5" opacity="0.6"/>
<line x1="334.96" y1="125.40" x2="334.96" y2="134.78" stroke="#f4a03a" stroke-width="0.6" opacity="0.6"/>
<line x1="334.06" y1="125.40" x2="335.86" y2="125.40" stroke="#f4a03a" stroke-width="0.5" opacity="0.6"/>
<line x1="334.06" y1="134.78" x2="335.86" y2="134.78" stroke="#f4a03a" stroke-width="0.5" opacity="0.6"/>
<line x1="345.64" y1="121.88" x2="345.64" y2="132.44" stroke="#f4a03a" stroke-width="0.6" opacity="0.6"/>
<line x1="344.74" y1="121.88" x2="346.54" y2="121.88" stroke="#f4a03a" stroke-width="0.5" opacity="0.6"/>
<line x1="344.74" y1="132.44" x2="346.54" y2="132.44" stroke="#f4a03a" stroke-width="0.5" opacity="0.6"/>
<polyline points="254.86,145.33 276.22,143.58 292.24,140.64 302.92,141.23 313.60,138.30 324.28,138.30 334.96,130.09 345.64,127.16" fill="none" stroke="#f4a03a" stroke-width="0.75" stroke-linejoin="round" opacity="0.9"/>
<polygon points="254.86,146.73 256.26,144.28 253.46,144.28" fill="#f4a03a"/>
<polygon points="276.22,144.98 277.62,142.53 274.82,142.53" fill="#f4a03a"/>
<polygon points="292.24,142.04 293.64,139.59 290.84,139.59" fill="#f4a03a"/>
<polygon points="302.92,142.63 304.32,140.18 301.52,140.18" fill="#f4a03a"/>
<polygon points="313.60,139.70 315.00,137.25 312.20,137.25" fill="#f4a03a"/>
<polygon points="324.28,139.70 325.68,137.25 322.88,137.25" fill="#f4a03a"/>
<polygon points="334.96,131.49 336.36,129.04 333.56,129.04" fill="#f4a03a"/>
<polygon points="345.64,128.56 347.04,126.11 344.24,126.11" fill="#f4a03a"/>
<line x1="254.86" y1="142.40" x2="254.86" y2="145.92" stroke="#b80f2e" stroke-width="0.6" opacity="0.6"/>
<line x1="253.96" y1="142.40" x2="255.76" y2="142.40" stroke="#b80f2e" stroke-width="0.5" opacity="0.6"/>
<line x1="253.96" y1="145.92" x2="255.76" y2="145.92" stroke="#b80f2e" stroke-width="0.5" opacity="0.6"/>
<line x1="276.22" y1="140.06" x2="276.22" y2="145.92" stroke="#b80f2e" stroke-width="0.6" opacity="0.6"/>
<line x1="275.32" y1="140.06" x2="277.12" y2="140.06" stroke="#b80f2e" stroke-width="0.5" opacity="0.6"/>
<line x1="275.32" y1="145.92" x2="277.12" y2="145.92" stroke="#b80f2e" stroke-width="0.5" opacity="0.6"/>
<line x1="292.24" y1="136.54" x2="292.24" y2="143.58" stroke="#b80f2e" stroke-width="0.6" opacity="0.6"/>
<line x1="291.34" y1="136.54" x2="293.14" y2="136.54" stroke="#b80f2e" stroke-width="0.5" opacity="0.6"/>
<line x1="291.34" y1="143.58" x2="293.14" y2="143.58" stroke="#b80f2e" stroke-width="0.5" opacity="0.6"/>
<line x1="302.92" y1="137.71" x2="302.92" y2="143.58" stroke="#b80f2e" stroke-width="0.6" opacity="0.6"/>
<line x1="302.02" y1="137.71" x2="303.82" y2="137.71" stroke="#b80f2e" stroke-width="0.5" opacity="0.6"/>
<line x1="302.02" y1="143.58" x2="303.82" y2="143.58" stroke="#b80f2e" stroke-width="0.5" opacity="0.6"/>
<line x1="313.60" y1="133.61" x2="313.60" y2="141.82" stroke="#b80f2e" stroke-width="0.6" opacity="0.6"/>
<line x1="312.70" y1="133.61" x2="314.50" y2="133.61" stroke="#b80f2e" stroke-width="0.5" opacity="0.6"/>
<line x1="312.70" y1="141.82" x2="314.50" y2="141.82" stroke="#b80f2e" stroke-width="0.5" opacity="0.6"/>
<line x1="324.28" y1="134.78" x2="324.28" y2="142.99" stroke="#b80f2e" stroke-width="0.6" opacity="0.6"/>
<line x1="323.38" y1="134.78" x2="325.18" y2="134.78" stroke="#b80f2e" stroke-width="0.5" opacity="0.6"/>
<line x1="323.38" y1="142.99" x2="325.18" y2="142.99" stroke="#b80f2e" stroke-width="0.5" opacity="0.6"/>
<line x1="334.96" y1="129.51" x2="334.96" y2="138.89" stroke="#b80f2e" stroke-width="0.6" opacity="0.6"/>
<line x1="334.06" y1="129.51" x2="335.86" y2="129.51" stroke="#b80f2e" stroke-width="0.5" opacity="0.6"/>
<line x1="334.06" y1="138.89" x2="335.86" y2="138.89" stroke="#b80f2e" stroke-width="0.5" opacity="0.6"/>
<line x1="345.64" y1="127.75" x2="345.64" y2="138.30" stroke="#b80f2e" stroke-width="0.6" opacity="0.6"/>
<line x1="344.74" y1="127.75" x2="346.54" y2="127.75" stroke="#b80f2e" stroke-width="0.5" opacity="0.6"/>
<line x1="344.74" y1="138.30" x2="346.54" y2="138.30" stroke="#b80f2e" stroke-width="0.5" opacity="0.6"/>
<polyline points="254.86,144.16 276.22,142.99 292.24,140.06 302.92,140.64 313.60,137.71 324.28,138.89 334.96,134.20 345.64,133.02" fill="none" stroke="#b80f2e" stroke-width="0.75" stroke-linejoin="round" opacity="0.9"/>
<polygon points="254.86,142.76 256.26,145.21 253.46,145.21" fill="#b80f2e"/>
<polygon points="276.22,141.59 277.62,144.04 274.82,144.04" fill="#b80f2e"/>
<polygon points="292.24,138.66 293.64,141.11 290.84,141.11" fill="#b80f2e"/>
<polygon points="302.92,139.24 304.32,141.69 301.52,141.69" fill="#b80f2e"/>
<polygon points="313.60,136.31 315.00,138.76 312.20,138.76" fill="#b80f2e"/>
<polygon points="324.28,137.49 325.68,139.94 322.88,139.94" fill="#b80f2e"/>
<polygon points="334.96,132.80 336.36,135.25 333.56,135.25" fill="#b80f2e"/>
<polygon points="345.64,131.62 347.04,134.07 344.24,134.07" fill="#b80f2e"/>
<line x1="254.86" y1="142.40" x2="254.86" y2="145.92" stroke="#4b1660" stroke-width="0.6" opacity="0.6"/>
<line x1="253.96" y1="142.40" x2="255.76" y2="142.40" stroke="#4b1660" stroke-width="0.5" opacity="0.6"/>
<line x1="253.96" y1="145.92" x2="255.76" y2="145.92" stroke="#4b1660" stroke-width="0.5" opacity="0.6"/>
<line x1="276.22" y1="140.29" x2="276.22" y2="146.15" stroke="#4b1660" stroke-width="0.6" opacity="0.6"/>
<line x1="275.32" y1="140.29" x2="277.12" y2="140.29" stroke="#4b1660" stroke-width="0.5" opacity="0.6"/>
<line x1="275.32" y1="146.15" x2="277.12" y2="146.15" stroke="#4b1660" stroke-width="0.5" opacity="0.6"/>
<line x1="292.24" y1="137.95" x2="292.24" y2="144.98" stroke="#4b1660" stroke-width="0.6" opacity="0.6"/>
<line x1="291.34" y1="137.95" x2="293.14" y2="137.95" stroke="#4b1660" stroke-width="0.5" opacity="0.6"/>
<line x1="291.34" y1="144.98" x2="293.14" y2="144.98" stroke="#4b1660" stroke-width="0.5" opacity="0.6"/>
<line x1="302.92" y1="138.89" x2="302.92" y2="144.75" stroke="#4b1660" stroke-width="0.6" opacity="0.6"/>
<line x1="302.02" y1="138.89" x2="303.82" y2="138.89" stroke="#4b1660" stroke-width="0.5" opacity="0.6"/>
<line x1="302.02" y1="144.75" x2="303.82" y2="144.75" stroke="#4b1660" stroke-width="0.5" opacity="0.6"/>
<line x1="313.60" y1="138.30" x2="313.60" y2="146.51" stroke="#4b1660" stroke-width="0.6" opacity="0.6"/>
<line x1="312.70" y1="138.30" x2="314.50" y2="138.30" stroke="#4b1660" stroke-width="0.5" opacity="0.6"/>
<line x1="312.70" y1="146.51" x2="314.50" y2="146.51" stroke="#4b1660" stroke-width="0.5" opacity="0.6"/>
<line x1="324.28" y1="139.47" x2="324.28" y2="147.68" stroke="#4b1660" stroke-width="0.6" opacity="0.6"/>
<line x1="323.38" y1="139.47" x2="325.18" y2="139.47" stroke="#4b1660" stroke-width="0.5" opacity="0.6"/>
<line x1="323.38" y1="147.68" x2="325.18" y2="147.68" stroke="#4b1660" stroke-width="0.5" opacity="0.6"/>
<line x1="334.96" y1="135.60" x2="334.96" y2="144.98" stroke="#4b1660" stroke-width="0.6" opacity="0.6"/>
<line x1="334.06" y1="135.60" x2="335.86" y2="135.60" stroke="#4b1660" stroke-width="0.5" opacity="0.6"/>
<line x1="334.06" y1="144.98" x2="335.86" y2="144.98" stroke="#4b1660" stroke-width="0.5" opacity="0.6"/>
<line x1="345.64" y1="134.19" x2="345.64" y2="144.75" stroke="#4b1660" stroke-width="0.6" opacity="0.6"/>
<line x1="344.74" y1="134.19" x2="346.54" y2="134.19" stroke="#4b1660" stroke-width="0.5" opacity="0.6"/>
<line x1="344.74" y1="144.75" x2="346.54" y2="144.75" stroke="#4b1660" stroke-width="0.5" opacity="0.6"/>
<polyline points="254.86,144.16 276.22,143.22 292.24,141.46 302.92,141.82 313.60,142.40 324.28,143.58 334.96,140.29 345.64,139.47" fill="none" stroke="#4b1660" stroke-width="0.75" stroke-linejoin="round" opacity="0.9"/>
<rect x="253.74" y="143.04" width="2.24" height="2.24" fill="#4b1660" />
<rect x="275.10" y="142.10" width="2.24" height="2.24" fill="#4b1660" />
<rect x="291.12" y="140.34" width="2.24" height="2.24" fill="#4b1660" />
<rect x="301.80" y="140.70" width="2.24" height="2.24" fill="#4b1660" />
<rect x="312.48" y="141.28" width="2.24" height="2.24" fill="#4b1660" />
<rect x="323.16" y="142.46" width="2.24" height="2.24" fill="#4b1660" />
<rect x="333.84" y="139.17" width="2.24" height="2.24" fill="#4b1660" />
<rect x="344.52" y="138.35" width="2.24" height="2.24" fill="#4b1660" />
<text x="292.4" y="174.95" font-size="9.3" text-anchor="middle" font-weight="normal" font-style="normal" fill="#1e1e1e" textLength="57.4" lengthAdjust="spacingAndGlyphs" stroke="#1e1e1e" stroke-width="0.2">Myeloid cells</text>
<line x1="233.80" y1="177.70" x2="233.80" y2="230.10" stroke="#1a1a1a" stroke-width="1.3" />
<line x1="230.60" y1="229.50" x2="233.80" y2="229.50" stroke="#1a1a1a" stroke-width="0.9" />
<text x="227.2" y="231.9" font-size="7.1" text-anchor="end" font-weight="normal" font-style="normal" fill="#1e1e1e" >0</text>
<line x1="230.60" y1="217.50" x2="233.80" y2="217.50" stroke="#1a1a1a" stroke-width="0.9" />
<text x="227.2" y="219.9" font-size="7.1" text-anchor="end" font-weight="normal" font-style="normal" fill="#1e1e1e" >10</text>
<line x1="230.60" y1="205.50" x2="233.80" y2="205.50" stroke="#1a1a1a" stroke-width="0.9" />
<text x="227.2" y="207.9" font-size="7.1" text-anchor="end" font-weight="normal" font-style="normal" fill="#1e1e1e" >20</text>
<line x1="230.60" y1="193.50" x2="233.80" y2="193.50" stroke="#1a1a1a" stroke-width="0.9" />
<text x="227.2" y="195.9" font-size="7.1" text-anchor="end" font-weight="normal" font-style="normal" fill="#1e1e1e" >30</text>
<line x1="230.60" y1="181.50" x2="233.80" y2="181.50" stroke="#1a1a1a" stroke-width="0.9" />
<text x="227.2" y="183.9" font-size="7.1" text-anchor="end" font-weight="normal" font-style="normal" fill="#1e1e1e" >40</text>
<line x1="233.00" y1="229.50" x2="351.00" y2="229.50" stroke="#1a1a1a" stroke-width="1.3" />
<line x1="233.50" y1="229.50" x2="233.50" y2="232.10" stroke="#1a1a1a" stroke-width="0.9" />
<text x="233.7" y="242.9" font-size="7.5" text-anchor="middle" font-weight="normal" font-style="normal" fill="#1e1e1e" >0</text>
<line x1="260.20" y1="229.50" x2="260.20" y2="232.10" stroke="#1a1a1a" stroke-width="0.9" />
<text x="260.4" y="242.9" font-size="7.5" text-anchor="middle" font-weight="normal" font-style="normal" fill="#1e1e1e" >5</text>
<line x1="286.90" y1="229.50" x2="286.90" y2="232.10" stroke="#1a1a1a" stroke-width="0.9" />
<text x="287.09999999999997" y="242.9" font-size="7.5" text-anchor="middle" font-weight="normal" font-style="normal" fill="#1e1e1e" >10</text>
<line x1="313.60" y1="229.50" x2="313.60" y2="232.10" stroke="#1a1a1a" stroke-width="0.9" />
<text x="313.8" y="242.9" font-size="7.5" text-anchor="middle" font-weight="normal" font-style="normal" fill="#1e1e1e" >15</text>
<line x1="340.30" y1="229.50" x2="340.30" y2="232.10" stroke="#1a1a1a" stroke-width="0.9" />
<text x="340.5" y="242.9" font-size="7.5" text-anchor="middle" font-weight="normal" font-style="normal" fill="#1e1e1e" >20</text>
<rect x="278.60" y="224.10" width="4.50" height="4.60" fill="#27a1dc" />
<rect x="285.60" y="224.10" width="4.50" height="4.60" fill="#27a1dc" />
<line x1="254.86" y1="216.18" x2="254.86" y2="222.90" stroke="#9a8fd6" stroke-width="0.6" opacity="0.6"/>
<line x1="253.96" y1="216.18" x2="255.76" y2="216.18" stroke="#9a8fd6" stroke-width="0.5" opacity="0.6"/>
<line x1="253.96" y1="222.90" x2="255.76" y2="222.90" stroke="#9a8fd6" stroke-width="0.5" opacity="0.6"/>
<line x1="276.22" y1="215.70" x2="276.22" y2="219.30" stroke="#9a8fd6" stroke-width="0.6" opacity="0.6"/>
<line x1="275.32" y1="215.70" x2="277.12" y2="215.70" stroke="#9a8fd6" stroke-width="0.5" opacity="0.6"/>
<line x1="275.32" y1="219.30" x2="277.12" y2="219.30" stroke="#9a8fd6" stroke-width="0.5" opacity="0.6"/>
<line x1="292.24" y1="214.50" x2="292.24" y2="218.10" stroke="#9a8fd6" stroke-width="0.6" opacity="0.6"/>
<line x1="291.34" y1="214.50" x2="293.14" y2="214.50" stroke="#9a8fd6" stroke-width="0.5" opacity="0.6"/>
<line x1="291.34" y1="218.10" x2="293.14" y2="218.10" stroke="#9a8fd6" stroke-width="0.5" opacity="0.6"/>
<line x1="302.92" y1="214.50" x2="302.92" y2="220.50" stroke="#9a8fd6" stroke-width="0.6" opacity="0.6"/>
<line x1="302.02" y1="214.50" x2="303.82" y2="214.50" stroke="#9a8fd6" stroke-width="0.5" opacity="0.6"/>
<line x1="302.02" y1="220.50" x2="303.82" y2="220.50" stroke="#9a8fd6" stroke-width="0.5" opacity="0.6"/>
<line x1="313.60" y1="213.90" x2="313.60" y2="221.10" stroke="#9a8fd6" stroke-width="0.6" opacity="0.6"/>
<line x1="312.70" y1="213.90" x2="314.50" y2="213.90" stroke="#9a8fd6" stroke-width="0.5" opacity="0.6"/>
<line x1="312.70" y1="221.10" x2="314.50" y2="221.10" stroke="#9a8fd6" stroke-width="0.5" opacity="0.6"/>
<line x1="324.28" y1="210.90" x2="324.28" y2="220.50" stroke="#9a8fd6" stroke-width="0.6" opacity="0.6"/>
<line x1="323.38" y1="210.90" x2="325.18" y2="210.90" stroke="#9a8fd6" stroke-width="0.5" opacity="0.6"/>
<line x1="323.38" y1="220.50" x2="325.18" y2="220.50" stroke="#9a8fd6" stroke-width="0.5" opacity="0.6"/>
<line x1="334.96" y1="209.10" x2="334.96" y2="219.90" stroke="#9a8fd6" stroke-width="0.6" opacity="0.6"/>
<line x1="334.06" y1="209.10" x2="335.86" y2="209.10" stroke="#9a8fd6" stroke-width="0.5" opacity="0.6"/>
<line x1="334.06" y1="219.90" x2="335.86" y2="219.90" stroke="#9a8fd6" stroke-width="0.5" opacity="0.6"/>
<line x1="345.64" y1="208.50" x2="345.64" y2="219.30" stroke="#9a8fd6" stroke-width="0.6" opacity="0.6"/>
<line x1="344.74" y1="208.50" x2="346.54" y2="208.50" stroke="#9a8fd6" stroke-width="0.5" opacity="0.6"/>
<line x1="344.74" y1="219.30" x2="346.54" y2="219.30" stroke="#9a8fd6" stroke-width="0.5" opacity="0.6"/>
<polyline points="254.86,219.54 276.22,217.50 292.24,216.30 302.92,217.50 313.60,217.50 324.28,215.70 334.96,214.50 345.64,213.90" fill="none" stroke="#9a8fd6" stroke-width="0.75" stroke-linejoin="round" opacity="0.9"/>
<circle cx="254.86" cy="219.54" r="1.19" fill="#9a8fd6"/>
<circle cx="276.22" cy="217.50" r="1.19" fill="#9a8fd6"/>
<circle cx="292.24" cy="216.30" r="1.19" fill="#9a8fd6"/>
<circle cx="302.92" cy="217.50" r="1.19" fill="#9a8fd6"/>
<circle cx="313.60" cy="217.50" r="1.19" fill="#9a8fd6"/>
<circle cx="324.28" cy="215.70" r="1.19" fill="#9a8fd6"/>
<circle cx="334.96" cy="214.50" r="1.19" fill="#9a8fd6"/>
<circle cx="345.64" cy="213.90" r="1.19" fill="#9a8fd6"/>
<line x1="254.86" y1="211.74" x2="254.86" y2="218.46" stroke="#f4a03a" stroke-width="0.6" opacity="0.6"/>
<line x1="253.96" y1="211.74" x2="255.76" y2="211.74" stroke="#f4a03a" stroke-width="0.5" opacity="0.6"/>
<line x1="253.96" y1="218.46" x2="255.76" y2="218.46" stroke="#f4a03a" stroke-width="0.5" opacity="0.6"/>
<line x1="276.22" y1="215.70" x2="276.22" y2="219.30" stroke="#f4a03a" stroke-width="0.6" opacity="0.6"/>
<line x1="275.32" y1="215.70" x2="277.12" y2="215.70" stroke="#f4a03a" stroke-width="0.5" opacity="0.6"/>
<line x1="275.32" y1="219.30" x2="277.12" y2="219.30" stroke="#f4a03a" stroke-width="0.5" opacity="0.6"/>
<line x1="292.24" y1="213.90" x2="292.24" y2="217.50" stroke="#f4a03a" stroke-width="0.6" opacity="0.6"/>
<line x1="291.34" y1="213.90" x2="293.14" y2="213.90" stroke="#f4a03a" stroke-width="0.5" opacity="0.6"/>
<line x1="291.34" y1="217.50" x2="293.14" y2="217.50" stroke="#f4a03a" stroke-width="0.5" opacity="0.6"/>
<line x1="302.92" y1="211.50" x2="302.92" y2="217.50" stroke="#f4a03a" stroke-width="0.6" opacity="0.6"/>
<line x1="302.02" y1="211.50" x2="303.82" y2="211.50" stroke="#f4a03a" stroke-width="0.5" opacity="0.6"/>
<line x1="302.02" y1="217.50" x2="303.82" y2="217.50" stroke="#f4a03a" stroke-width="0.5" opacity="0.6"/>
<line x1="313.60" y1="210.54" x2="313.60" y2="217.74" stroke="#f4a03a" stroke-width="0.6" opacity="0.6"/>
<line x1="312.70" y1="210.54" x2="314.50" y2="210.54" stroke="#f4a03a" stroke-width="0.5" opacity="0.6"/>
<line x1="312.70" y1="217.74" x2="314.50" y2="217.74" stroke="#f4a03a" stroke-width="0.5" opacity="0.6"/>
<line x1="324.28" y1="210.30" x2="324.28" y2="219.90" stroke="#f4a03a" stroke-width="0.6" opacity="0.6"/>
<line x1="323.38" y1="210.30" x2="325.18" y2="210.30" stroke="#f4a03a" stroke-width="0.5" opacity="0.6"/>
<line x1="323.38" y1="219.90" x2="325.18" y2="219.90" stroke="#f4a03a" stroke-width="0.5" opacity="0.6"/>
<line x1="334.96" y1="208.14" x2="334.96" y2="218.94" stroke="#f4a03a" stroke-width="0.6" opacity="0.6"/>
<line x1="334.06" y1="208.14" x2="335.86" y2="208.14" stroke="#f4a03a" stroke-width="0.5" opacity="0.6"/>
<line x1="334.06" y1="218.94" x2="335.86" y2="218.94" stroke="#f4a03a" stroke-width="0.5" opacity="0.6"/>
<line x1="345.64" y1="207.30" x2="345.64" y2="218.10" stroke="#f4a03a" stroke-width="0.6" opacity="0.6"/>
<line x1="344.74" y1="207.30" x2="346.54" y2="207.30" stroke="#f4a03a" stroke-width="0.5" opacity="0.6"/>
<line x1="344.74" y1="218.10" x2="346.54" y2="218.10" stroke="#f4a03a" stroke-width="0.5" opacity="0.6"/>
<polyline points="254.86,215.10 276.22,217.50 292.24,215.70 302.92,214.50 313.60,214.14 324.28,215.10 334.96,213.54 345.64,212.70" fill="none" stroke="#f4a03a" stroke-width="0.75" stroke-linejoin="round" opacity="0.9"/>
<polygon points="254.86,216.50 256.26,214.05 253.46,214.05" fill="#f4a03a"/>
<polygon points="276.22,218.90 277.62,216.45 274.82,216.45" fill="#f4a03a"/>
<polygon points="292.24,217.10 293.64,214.65 290.84,214.65" fill="#f4a03a"/>
<polygon points="302.92,215.90 304.32,213.45 301.52,213.45" fill="#f4a03a"/>
<polygon points="313.60,215.54 315.00,213.09 312.20,213.09" fill="#f4a03a"/>
<polygon points="324.28,216.50 325.68,214.05 322.88,214.05" fill="#f4a03a"/>
<polygon points="334.96,214.94 336.36,212.49 333.56,212.49" fill="#f4a03a"/>
<polygon points="345.64,214.10 347.04,211.65 344.24,211.65" fill="#f4a03a"/>
<line x1="254.86" y1="211.74" x2="254.86" y2="218.46" stroke="#b80f2e" stroke-width="0.6" opacity="0.6"/>
<line x1="253.96" y1="211.74" x2="255.76" y2="211.74" stroke="#b80f2e" stroke-width="0.5" opacity="0.6"/>
<line x1="253.96" y1="218.46" x2="255.76" y2="218.46" stroke="#b80f2e" stroke-width="0.5" opacity="0.6"/>
<line x1="276.22" y1="215.70" x2="276.22" y2="219.30" stroke="#b80f2e" stroke-width="0.6" opacity="0.6"/>
<line x1="275.32" y1="215.70" x2="277.12" y2="215.70" stroke="#b80f2e" stroke-width="0.5" opacity="0.6"/>
<line x1="275.32" y1="219.30" x2="277.12" y2="219.30" stroke="#b80f2e" stroke-width="0.5" opacity="0.6"/>
<line x1="292.24" y1="213.90" x2="292.24" y2="217.50" stroke="#b80f2e" stroke-width="0.6" opacity="0.6"/>
<line x1="291.34" y1="213.90" x2="293.14" y2="213.90" stroke="#b80f2e" stroke-width="0.5" opacity="0.6"/>
<line x1="291.34" y1="217.50" x2="293.14" y2="217.50" stroke="#b80f2e" stroke-width="0.5" opacity="0.6"/>
<line x1="302.92" y1="213.90" x2="302.92" y2="219.90" stroke="#b80f2e" stroke-width="0.6" opacity="0.6"/>
<line x1="302.02" y1="213.90" x2="303.82" y2="213.90" stroke="#b80f2e" stroke-width="0.5" opacity="0.6"/>
<line x1="302.02" y1="219.90" x2="303.82" y2="219.90" stroke="#b80f2e" stroke-width="0.5" opacity="0.6"/>
<line x1="313.60" y1="213.90" x2="313.60" y2="221.10" stroke="#b80f2e" stroke-width="0.6" opacity="0.6"/>
<line x1="312.70" y1="213.90" x2="314.50" y2="213.90" stroke="#b80f2e" stroke-width="0.5" opacity="0.6"/>
<line x1="312.70" y1="221.10" x2="314.50" y2="221.10" stroke="#b80f2e" stroke-width="0.5" opacity="0.6"/>
<line x1="324.28" y1="210.30" x2="324.28" y2="219.90" stroke="#b80f2e" stroke-width="0.6" opacity="0.6"/>
<line x1="323.38" y1="210.30" x2="325.18" y2="210.30" stroke="#b80f2e" stroke-width="0.5" opacity="0.6"/>
<line x1="323.38" y1="219.90" x2="325.18" y2="219.90" stroke="#b80f2e" stroke-width="0.5" opacity="0.6"/>
<line x1="334.96" y1="208.50" x2="334.96" y2="219.30" stroke="#b80f2e" stroke-width="0.6" opacity="0.6"/>
<line x1="334.06" y1="208.50" x2="335.86" y2="208.50" stroke="#b80f2e" stroke-width="0.5" opacity="0.6"/>
<line x1="334.06" y1="219.30" x2="335.86" y2="219.30" stroke="#b80f2e" stroke-width="0.5" opacity="0.6"/>
<line x1="345.64" y1="209.10" x2="345.64" y2="219.90" stroke="#b80f2e" stroke-width="0.6" opacity="0.6"/>
<line x1="344.74" y1="209.10" x2="346.54" y2="209.10" stroke="#b80f2e" stroke-width="0.5" opacity="0.6"/>
<line x1="344.74" y1="219.90" x2="346.54" y2="219.90" stroke="#b80f2e" stroke-width="0.5" opacity="0.6"/>
<polyline points="254.86,215.10 276.22,217.50 292.24,215.70 302.92,216.90 313.60,217.50 324.28,215.10 334.96,213.90 345.64,214.50" fill="none" stroke="#b80f2e" stroke-width="0.75" stroke-linejoin="round" opacity="0.9"/>
<polygon points="254.86,213.70 256.26,216.15 253.46,216.15" fill="#b80f2e"/>
<polygon points="276.22,216.10 277.62,218.55 274.82,218.55" fill="#b80f2e"/>
<polygon points="292.24,214.30 293.64,216.75 290.84,216.75" fill="#b80f2e"/>
<polygon points="302.92,215.50 304.32,217.95 301.52,217.95" fill="#b80f2e"/>
<polygon points="313.60,216.10 315.00,218.55 312.20,218.55" fill="#b80f2e"/>
<polygon points="324.28,213.70 325.68,216.15 322.88,216.15" fill="#b80f2e"/>
<polygon points="334.96,212.50 336.36,214.95 333.56,214.95" fill="#b80f2e"/>
<polygon points="345.64,213.10 347.04,215.55 344.24,215.55" fill="#b80f2e"/>
<line x1="254.86" y1="216.18" x2="254.86" y2="222.90" stroke="#4b1660" stroke-width="0.6" opacity="0.6"/>
<line x1="253.96" y1="216.18" x2="255.76" y2="216.18" stroke="#4b1660" stroke-width="0.5" opacity="0.6"/>
<line x1="253.96" y1="222.90" x2="255.76" y2="222.90" stroke="#4b1660" stroke-width="0.5" opacity="0.6"/>
<line x1="276.22" y1="215.70" x2="276.22" y2="219.30" stroke="#4b1660" stroke-width="0.6" opacity="0.6"/>
<line x1="275.32" y1="215.70" x2="277.12" y2="215.70" stroke="#4b1660" stroke-width="0.5" opacity="0.6"/>
<line x1="275.32" y1="219.30" x2="277.12" y2="219.30" stroke="#4b1660" stroke-width="0.5" opacity="0.6"/>
<line x1="292.24" y1="214.50" x2="292.24" y2="218.10" stroke="#4b1660" stroke-width="0.6" opacity="0.6"/>
<line x1="291.34" y1="214.50" x2="293.14" y2="214.50" stroke="#4b1660" stroke-width="0.5" opacity="0.6"/>
<line x1="291.34" y1="218.10" x2="293.14" y2="218.10" stroke="#4b1660" stroke-width="0.5" opacity="0.6"/>
<line x1="302.92" y1="216.30" x2="302.92" y2="222.30" stroke="#4b1660" stroke-width="0.6" opacity="0.6"/>
<line x1="302.02" y1="216.30" x2="303.82" y2="216.30" stroke="#4b1660" stroke-width="0.5" opacity="0.6"/>
<line x1="302.02" y1="222.30" x2="303.82" y2="222.30" stroke="#4b1660" stroke-width="0.5" opacity="0.6"/>
<line x1="313.60" y1="214.50" x2="313.60" y2="221.70" stroke="#4b1660" stroke-width="0.6" opacity="0.6"/>
<line x1="312.70" y1="214.50" x2="314.50" y2="214.50" stroke="#4b1660" stroke-width="0.5" opacity="0.6"/>
<line x1="312.70" y1="221.70" x2="314.50" y2="221.70" stroke="#4b1660" stroke-width="0.5" opacity="0.6"/>
<line x1="324.28" y1="215.70" x2="324.28" y2="225.30" stroke="#4b1660" stroke-width="0.6" opacity="0.6"/>
<line x1="323.38" y1="215.70" x2="325.18" y2="215.70" stroke="#4b1660" stroke-width="0.5" opacity="0.6"/>
<line x1="323.38" y1="225.30" x2="325.18" y2="225.30" stroke="#4b1660" stroke-width="0.5" opacity="0.6"/>
<line x1="334.96" y1="214.50" x2="334.96" y2="225.30" stroke="#4b1660" stroke-width="0.6" opacity="0.6"/>
<line x1="334.06" y1="214.50" x2="335.86" y2="214.50" stroke="#4b1660" stroke-width="0.5" opacity="0.6"/>
<line x1="334.06" y1="225.30" x2="335.86" y2="225.30" stroke="#4b1660" stroke-width="0.5" opacity="0.6"/>
<line x1="345.64" y1="215.10" x2="345.64" y2="225.90" stroke="#4b1660" stroke-width="0.6" opacity="0.6"/>
<line x1="344.74" y1="215.10" x2="346.54" y2="215.10" stroke="#4b1660" stroke-width="0.5" opacity="0.6"/>
<line x1="344.74" y1="225.90" x2="346.54" y2="225.90" stroke="#4b1660" stroke-width="0.5" opacity="0.6"/>
<polyline points="254.86,219.54 276.22,217.50 292.24,216.30 302.92,219.30 313.60,218.10 324.28,220.50 334.96,219.90 345.64,220.50" fill="none" stroke="#4b1660" stroke-width="0.75" stroke-linejoin="round" opacity="0.9"/>
<rect x="253.74" y="218.42" width="2.24" height="2.24" fill="#4b1660" />
<rect x="275.10" y="216.38" width="2.24" height="2.24" fill="#4b1660" />
<rect x="291.12" y="215.18" width="2.24" height="2.24" fill="#4b1660" />
<rect x="301.80" y="218.18" width="2.24" height="2.24" fill="#4b1660" />
<rect x="312.48" y="216.98" width="2.24" height="2.24" fill="#4b1660" />
<rect x="323.16" y="219.38" width="2.24" height="2.24" fill="#4b1660" />
<rect x="333.84" y="218.78" width="2.24" height="2.24" fill="#4b1660" />
<rect x="344.52" y="219.38" width="2.24" height="2.24" fill="#4b1660" />
<text x="234.2" y="256.4" font-size="9.8" text-anchor="start" font-weight="normal" font-style="normal" fill="#1e1e1e" textLength="116.3" lengthAdjust="spacingAndGlyphs" stroke="#1e1e1e" stroke-width="0.2">Time (weeks from transplantation)</text>
<text x="385.8" y="11" font-size="12.5" text-anchor="start" font-weight="bold" font-style="normal" fill="#111" >L</text>
<line x1="430.60" y1="18.50" x2="430.60" y2="189.50" stroke="#a0a0c0" stroke-width="0.7" />
<rect x="412.80" y="20.55" width="22.20" height="2.20" fill="#9a8fd6" />
<line x1="435.00" y1="21.65" x2="442.50" y2="21.65" stroke="#666" stroke-width="0.85" />
<line x1="427.50" y1="21.65" x2="435.00" y2="21.65" stroke="#000" stroke-width="0.5" opacity="0.35"/>
<line x1="442.50" y1="20.85" x2="442.50" y2="22.45" stroke="#555" stroke-width="0.6" />
<rect x="412.80" y="23.85" width="15.50" height="2.20" fill="#4b1660" />
<line x1="428.30" y1="24.95" x2="430.30" y2="24.95" stroke="#666" stroke-width="0.85" />
<line x1="426.30" y1="24.95" x2="428.30" y2="24.95" stroke="#000" stroke-width="0.5" opacity="0.35"/>
<line x1="430.30" y1="24.15" x2="430.30" y2="25.75" stroke="#555" stroke-width="0.6" />
<rect x="412.80" y="27.15" width="27.20" height="2.20" fill="#b80f2e" />
<line x1="440.00" y1="28.25" x2="449.20" y2="28.25" stroke="#666" stroke-width="0.85" />
<line x1="430.80" y1="28.25" x2="440.00" y2="28.25" stroke="#000" stroke-width="0.5" opacity="0.35"/>
<line x1="449.20" y1="27.45" x2="449.20" y2="29.05" stroke="#555" stroke-width="0.6" />
<rect x="412.80" y="30.45" width="27.20" height="2.20" fill="#f4a03a" />
<line x1="440.00" y1="31.55" x2="447.90" y2="31.55" stroke="#666" stroke-width="0.85" />
<line x1="432.10" y1="31.55" x2="440.00" y2="31.55" stroke="#000" stroke-width="0.5" opacity="0.35"/>
<line x1="447.90" y1="30.75" x2="447.90" y2="32.35" stroke="#555" stroke-width="0.6" />
<line x1="409.30" y1="26.60" x2="412.80" y2="26.60" stroke="#1a1a1a" stroke-width="0.9" />
<text x="406.6" y="24.400000000000002" font-size="7.5" text-anchor="end" font-weight="normal" font-style="normal" fill="#1e1e1e" textLength="17.4" lengthAdjust="spacingAndGlyphs" stroke="#2a2a2a" stroke-width="0.12">Total</text>
<text x="406.6" y="32.6" font-size="7.5" text-anchor="end" font-weight="normal" font-style="normal" fill="#1e1e1e" textLength="14.1" lengthAdjust="spacingAndGlyphs" stroke="#2a2a2a" stroke-width="0.12">cells</text>
<rect x="412.80" y="36.15" width="27.60" height="2.20" fill="#9a8fd6" />
<line x1="440.40" y1="37.25" x2="451.20" y2="37.25" stroke="#666" stroke-width="0.85" />
<line x1="429.60" y1="37.25" x2="440.40" y2="37.25" stroke="#000" stroke-width="0.5" opacity="0.35"/>
<line x1="451.20" y1="36.45" x2="451.20" y2="38.05" stroke="#555" stroke-width="0.6" />
<rect x="412.80" y="39.45" width="13.40" height="2.20" fill="#4b1660" />
<line x1="426.20" y1="40.55" x2="430.30" y2="40.55" stroke="#666" stroke-width="0.85" />
<line x1="422.10" y1="40.55" x2="426.20" y2="40.55" stroke="#000" stroke-width="0.5" opacity="0.35"/>
<line x1="430.30" y1="39.75" x2="430.30" y2="41.35" stroke="#555" stroke-width="0.6" />
<rect x="412.80" y="42.75" width="27.20" height="2.20" fill="#b80f2e" />
<line x1="440.00" y1="43.85" x2="450.60" y2="43.85" stroke="#666" stroke-width="0.85" />
<line x1="429.40" y1="43.85" x2="440.00" y2="43.85" stroke="#000" stroke-width="0.5" opacity="0.35"/>
<line x1="450.60" y1="43.05" x2="450.60" y2="44.65" stroke="#555" stroke-width="0.6" />
<rect x="412.80" y="46.05" width="25.60" height="2.20" fill="#f4a03a" />
<line x1="438.40" y1="47.15" x2="445.60" y2="47.15" stroke="#666" stroke-width="0.85" />
<line x1="431.20" y1="47.15" x2="438.40" y2="47.15" stroke="#000" stroke-width="0.5" opacity="0.35"/>
<line x1="445.60" y1="46.35" x2="445.60" y2="47.95" stroke="#555" stroke-width="0.6" />
<line x1="409.30" y1="42.20" x2="412.80" y2="42.20" stroke="#1a1a1a" stroke-width="0.9" />
<text x="406.6" y="44.400000000000006" font-size="7.5" text-anchor="end" font-weight="normal" font-style="normal" fill="#1e1e1e" textLength="13.8" lengthAdjust="spacingAndGlyphs" stroke="#2a2a2a" stroke-width="0.12">CLP</text>
<rect x="412.80" y="51.75" width="26.20" height="2.20" fill="#9a8fd6" />
<line x1="439.00" y1="52.85" x2="447.20" y2="52.85" stroke="#666" stroke-width="0.85" />
<line x1="430.80" y1="52.85" x2="439.00" y2="52.85" stroke="#000" stroke-width="0.5" opacity="0.35"/>
<line x1="447.20" y1="52.05" x2="447.20" y2="53.65" stroke="#555" stroke-width="0.6" />
<rect x="412.80" y="55.05" width="15.50" height="2.20" fill="#4b1660" />
<line x1="428.30" y1="56.15" x2="429.60" y2="56.15" stroke="#666" stroke-width="0.85" />
<line x1="427.00" y1="56.15" x2="428.30" y2="56.15" stroke="#000" stroke-width="0.5" opacity="0.35"/>
<line x1="429.60" y1="55.35" x2="429.60" y2="56.95" stroke="#555" stroke-width="0.6" />
<rect x="412.80" y="58.35" width="25.60" height="2.20" fill="#b80f2e" />
<line x1="438.40" y1="59.45" x2="447.20" y2="59.45" stroke="#666" stroke-width="0.85" />
<line x1="429.60" y1="59.45" x2="438.40" y2="59.45" stroke="#000" stroke-width="0.5" opacity="0.35"/>
<line x1="447.20" y1="58.65" x2="447.20" y2="60.25" stroke="#555" stroke-width="0.6" />
<rect x="412.80" y="61.65" width="24.90" height="2.20" fill="#f4a03a" />
<line x1="437.70" y1="62.75" x2="443.10" y2="62.75" stroke="#666" stroke-width="0.85" />
<line x1="432.30" y1="62.75" x2="437.70" y2="62.75" stroke="#000" stroke-width="0.5" opacity="0.35"/>
<line x1="443.10" y1="61.95" x2="443.10" y2="63.55" stroke="#555" stroke-width="0.6" />
<line x1="409.30" y1="57.80" x2="412.80" y2="57.80" stroke="#1a1a1a" stroke-width="0.9" />
<text x="406.6" y="60.0" font-size="7.5" text-anchor="end" font-weight="normal" font-style="normal" fill="#1e1e1e" textLength="15.9" lengthAdjust="spacingAndGlyphs" stroke="#2a2a2a" stroke-width="0.12">MEP</text>
<rect x="412.80" y="67.35" width="35.10" height="2.20" fill="#9a8fd6" />
<line x1="447.90" y1="68.45" x2="460.00" y2="68.45" stroke="#666" stroke-width="0.85" />
<line x1="435.80" y1="68.45" x2="447.90" y2="68.45" stroke="#000" stroke-width="0.5" opacity="0.35"/>
<line x1="460.00" y1="67.65" x2="460.00" y2="69.25" stroke="#555" stroke-width="0.6" />
<rect x="412.80" y="70.65" width="18.80" height="2.20" fill="#4b1660" />
<line x1="431.60" y1="71.75" x2="433.00" y2="71.75" stroke="#666" stroke-width="0.85" />
<line x1="430.20" y1="71.75" x2="431.60" y2="71.75" stroke="#000" stroke-width="0.5" opacity="0.35"/>
<line x1="433.00" y1="70.95" x2="433.00" y2="72.55" stroke="#555" stroke-width="0.6" />
<rect x="412.80" y="73.95" width="27.60" height="2.20" fill="#b80f2e" />
<line x1="440.40" y1="75.05" x2="451.90" y2="75.05" stroke="#666" stroke-width="0.85" />
<line x1="428.90" y1="75.05" x2="440.40" y2="75.05" stroke="#000" stroke-width="0.5" opacity="0.35"/>
<line x1="451.90" y1="74.25" x2="451.90" y2="75.85" stroke="#555" stroke-width="0.6" />
<rect x="412.80" y="77.25" width="27.00" height="2.20" fill="#f4a03a" />
<line x1="439.80" y1="78.35" x2="447.20" y2="78.35" stroke="#666" stroke-width="0.85" />
<line x1="432.40" y1="78.35" x2="439.80" y2="78.35" stroke="#000" stroke-width="0.5" opacity="0.35"/>
<line x1="447.20" y1="77.55" x2="447.20" y2="79.15" stroke="#555" stroke-width="0.6" />
<line x1="409.30" y1="73.40" x2="412.80" y2="73.40" stroke="#1a1a1a" stroke-width="0.9" />
<text x="406.6" y="75.60000000000001" font-size="7.5" text-anchor="end" font-weight="normal" font-style="normal" fill="#1e1e1e" textLength="16.8" lengthAdjust="spacingAndGlyphs" stroke="#2a2a2a" stroke-width="0.12">CMP</text>
<rect x="412.80" y="82.95" width="39.80" height="2.20" fill="#9a8fd6" />
<line x1="452.60" y1="84.05" x2="466.80" y2="84.05" stroke="#666" stroke-width="0.85" />
<line x1="438.40" y1="84.05" x2="452.60" y2="84.05" stroke="#000" stroke-width="0.5" opacity="0.35"/>
<line x1="466.80" y1="83.25" x2="466.80" y2="84.85" stroke="#555" stroke-width="0.6" />
<rect x="412.80" y="86.25" width="18.80" height="2.20" fill="#4b1660" />
<line x1="431.60" y1="87.35" x2="433.70" y2="87.35" stroke="#666" stroke-width="0.85" />
<line x1="429.50" y1="87.35" x2="431.60" y2="87.35" stroke="#000" stroke-width="0.5" opacity="0.35"/>
<line x1="433.70" y1="86.55" x2="433.70" y2="88.15" stroke="#555" stroke-width="0.6" />
<rect x="412.80" y="89.55" width="33.00" height="2.20" fill="#b80f2e" />
<line x1="445.80" y1="90.65" x2="455.30" y2="90.65" stroke="#666" stroke-width="0.85" />
<line x1="436.30" y1="90.65" x2="445.80" y2="90.65" stroke="#000" stroke-width="0.5" opacity="0.35"/>
<line x1="455.30" y1="89.85" x2="455.30" y2="91.45" stroke="#555" stroke-width="0.6" />
<rect x="412.80" y="92.85" width="29.70" height="2.20" fill="#f4a03a" />
<line x1="442.50" y1="93.95" x2="451.20" y2="93.95" stroke="#666" stroke-width="0.85" />
<line x1="433.80" y1="93.95" x2="442.50" y2="93.95" stroke="#000" stroke-width="0.5" opacity="0.35"/>
<line x1="451.20" y1="93.15" x2="451.20" y2="94.75" stroke="#555" stroke-width="0.6" />
<line x1="409.30" y1="89.00" x2="412.80" y2="89.00" stroke="#1a1a1a" stroke-width="0.9" />
<text x="406.6" y="91.2" font-size="7.5" text-anchor="end" font-weight="normal" font-style="normal" fill="#1e1e1e" textLength="17.3" lengthAdjust="spacingAndGlyphs" stroke="#2a2a2a" stroke-width="0.12">GMP</text>
<rect x="412.80" y="98.55" width="33.00" height="2.20" fill="#9a8fd6" />
<line x1="445.80" y1="99.65" x2="458.00" y2="99.65" stroke="#666" stroke-width="0.85" />
<line x1="433.60" y1="99.65" x2="445.80" y2="99.65" stroke="#000" stroke-width="0.5" opacity="0.35"/>
<line x1="458.00" y1="98.85" x2="458.00" y2="100.45" stroke="#555" stroke-width="0.6" />
<rect x="412.80" y="101.85" width="20.20" height="2.20" fill="#4b1660" />
<line x1="433.00" y1="102.95" x2="439.80" y2="102.95" stroke="#666" stroke-width="0.85" />
<line x1="426.20" y1="102.95" x2="433.00" y2="102.95" stroke="#000" stroke-width="0.5" opacity="0.35"/>
<line x1="439.80" y1="102.15" x2="439.80" y2="103.75" stroke="#555" stroke-width="0.6" />
<rect x="412.80" y="105.15" width="24.20" height="2.20" fill="#b80f2e" />
<line x1="437.00" y1="106.25" x2="444.50" y2="106.25" stroke="#666" stroke-width="0.85" />
<line x1="429.50" y1="106.25" x2="437.00" y2="106.25" stroke="#000" stroke-width="0.5" opacity="0.35"/>
<line x1="444.50" y1="105.45" x2="444.50" y2="107.05" stroke="#555" stroke-width="0.6" />
<rect x="412.80" y="108.45" width="21.60" height="2.20" fill="#f4a03a" />
<line x1="434.40" y1="109.55" x2="439.80" y2="109.55" stroke="#666" stroke-width="0.85" />
<line x1="429.00" y1="109.55" x2="434.40" y2="109.55" stroke="#000" stroke-width="0.5" opacity="0.35"/>
<line x1="439.80" y1="108.75" x2="439.80" y2="110.35" stroke="#555" stroke-width="0.6" />
<line x1="409.30" y1="104.60" x2="412.80" y2="104.60" stroke="#1a1a1a" stroke-width="0.9" />
<text x="406.6" y="106.8" font-size="7.5" text-anchor="end" font-weight="normal" font-style="normal" fill="#1e1e1e" textLength="13.0" lengthAdjust="spacingAndGlyphs" stroke="#2a2a2a" stroke-width="0.12">LSK</text>
<rect x="412.80" y="114.15" width="34.40" height="2.20" fill="#9a8fd6" />
<line x1="447.20" y1="115.25" x2="460.70" y2="115.25" stroke="#666" stroke-width="0.85" />
<line x1="433.70" y1="115.25" x2="447.20" y2="115.25" stroke="#000" stroke-width="0.5" opacity="0.35"/>
<line x1="460.70" y1="114.45" x2="460.70" y2="116.05" stroke="#555" stroke-width="0.6" />
<rect x="412.80" y="117.45" width="16.20" height="2.20" fill="#4b1660" />
<line x1="429.00" y1="118.55" x2="433.00" y2="118.55" stroke="#666" stroke-width="0.85" />
<line x1="425.00" y1="118.55" x2="429.00" y2="118.55" stroke="#000" stroke-width="0.5" opacity="0.35"/>
<line x1="433.00" y1="117.75" x2="433.00" y2="119.35" stroke="#555" stroke-width="0.6" />
<rect x="412.80" y="120.75" width="22.90" height="2.20" fill="#b80f2e" />
<line x1="435.70" y1="121.85" x2="444.20" y2="121.85" stroke="#666" stroke-width="0.85" />
<line x1="427.20" y1="121.85" x2="435.70" y2="121.85" stroke="#000" stroke-width="0.5" opacity="0.35"/>
<line x1="444.20" y1="121.05" x2="444.20" y2="122.65" stroke="#555" stroke-width="0.6" />
<rect x="412.80" y="124.05" width="18.80" height="2.20" fill="#f4a03a" />
<line x1="431.60" y1="125.15" x2="441.80" y2="125.15" stroke="#666" stroke-width="0.85" />
<line x1="421.40" y1="125.15" x2="431.60" y2="125.15" stroke="#000" stroke-width="0.5" opacity="0.35"/>
<line x1="441.80" y1="124.35" x2="441.80" y2="125.95" stroke="#555" stroke-width="0.6" />
<line x1="409.30" y1="120.20" x2="412.80" y2="120.20" stroke="#1a1a1a" stroke-width="0.9" />
<text x="406.6" y="122.39999999999999" font-size="7.5" text-anchor="end" font-weight="normal" font-style="normal" fill="#1e1e1e" textLength="19.8" lengthAdjust="spacingAndGlyphs" stroke="#2a2a2a" stroke-width="0.12">MPP4</text>
<rect x="412.80" y="129.75" width="37.80" height="2.20" fill="#9a8fd6" />
<line x1="450.60" y1="130.85" x2="466.10" y2="130.85" stroke="#666" stroke-width="0.85" />
<line x1="435.10" y1="130.85" x2="450.60" y2="130.85" stroke="#000" stroke-width="0.5" opacity="0.35"/>
<line x1="466.10" y1="130.05" x2="466.10" y2="131.65" stroke="#555" stroke-width="0.6" />
<rect x="412.80" y="133.05" width="15.50" height="2.20" fill="#4b1660" />
<line x1="428.30" y1="134.15" x2="431.60" y2="134.15" stroke="#666" stroke-width="0.85" />
<line x1="425.00" y1="134.15" x2="428.30" y2="134.15" stroke="#000" stroke-width="0.5" opacity="0.35"/>
<line x1="431.60" y1="133.35" x2="431.60" y2="134.95" stroke="#555" stroke-width="0.6" />
<rect x="412.80" y="136.35" width="28.30" height="2.20" fill="#b80f2e" />
<line x1="441.10" y1="137.45" x2="450.60" y2="137.45" stroke="#666" stroke-width="0.85" />
<line x1="431.60" y1="137.45" x2="441.10" y2="137.45" stroke="#000" stroke-width="0.5" opacity="0.35"/>
<line x1="450.60" y1="136.65" x2="450.60" y2="138.25" stroke="#555" stroke-width="0.6" />
<rect x="412.80" y="139.65" width="20.20" height="2.20" fill="#f4a03a" />
<line x1="433.00" y1="140.75" x2="441.50" y2="140.75" stroke="#666" stroke-width="0.85" />
<line x1="424.50" y1="140.75" x2="433.00" y2="140.75" stroke="#000" stroke-width="0.5" opacity="0.35"/>
<line x1="441.50" y1="139.95" x2="441.50" y2="141.55" stroke="#555" stroke-width="0.6" />
<line x1="409.30" y1="135.80" x2="412.80" y2="135.80" stroke="#1a1a1a" stroke-width="0.9" />
<text x="406.6" y="138.0" font-size="7.5" text-anchor="end" font-weight="normal" font-style="normal" fill="#1e1e1e" textLength="20.0" lengthAdjust="spacingAndGlyphs" stroke="#2a2a2a" stroke-width="0.12">MPP3</text>
<rect x="412.80" y="145.35" width="35.10" height="2.20" fill="#9a8fd6" />
<line x1="447.90" y1="146.45" x2="460.70" y2="146.45" stroke="#666" stroke-width="0.85" />
<line x1="435.10" y1="146.45" x2="447.90" y2="146.45" stroke="#000" stroke-width="0.5" opacity="0.35"/>
<line x1="460.70" y1="145.65" x2="460.70" y2="147.25" stroke="#555" stroke-width="0.6" />
<rect x="412.80" y="148.65" width="14.80" height="2.20" fill="#4b1660" />
<line x1="427.60" y1="149.75" x2="430.30" y2="149.75" stroke="#666" stroke-width="0.85" />
<line x1="424.90" y1="149.75" x2="427.60" y2="149.75" stroke="#000" stroke-width="0.5" opacity="0.35"/>
<line x1="430.30" y1="148.95" x2="430.30" y2="150.55" stroke="#555" stroke-width="0.6" />
<rect x="412.80" y="151.95" width="27.00" height="2.20" fill="#b80f2e" />
<line x1="439.80" y1="153.05" x2="451.90" y2="153.05" stroke="#666" stroke-width="0.85" />
<line x1="427.70" y1="153.05" x2="439.80" y2="153.05" stroke="#000" stroke-width="0.5" opacity="0.35"/>
<line x1="451.90" y1="152.25" x2="451.90" y2="153.85" stroke="#555" stroke-width="0.6" />
<rect x="412.80" y="155.25" width="24.20" height="2.20" fill="#f4a03a" />
<line x1="437.00" y1="156.35" x2="445.80" y2="156.35" stroke="#666" stroke-width="0.85" />
<line x1="428.20" y1="156.35" x2="437.00" y2="156.35" stroke="#000" stroke-width="0.5" opacity="0.35"/>
<line x1="445.80" y1="155.55" x2="445.80" y2="157.15" stroke="#555" stroke-width="0.6" />
<line x1="409.30" y1="151.40" x2="412.80" y2="151.40" stroke="#1a1a1a" stroke-width="0.9" />
<text x="406.6" y="153.6" font-size="7.5" text-anchor="end" font-weight="normal" font-style="normal" fill="#1e1e1e" textLength="20.0" lengthAdjust="spacingAndGlyphs" stroke="#2a2a2a" stroke-width="0.12">MPP2</text>
<rect x="412.80" y="160.95" width="51.20" height="2.20" fill="#9a8fd6" />
<line x1="464.00" y1="162.05" x2="485.90" y2="162.05" stroke="#666" stroke-width="0.85" />
<line x1="442.10" y1="162.05" x2="464.00" y2="162.05" stroke="#000" stroke-width="0.5" opacity="0.35"/>
<line x1="485.90" y1="161.25" x2="485.90" y2="162.85" stroke="#555" stroke-width="0.6" />
<rect x="412.80" y="164.25" width="30.30" height="2.20" fill="#4b1660" />
<line x1="443.10" y1="165.35" x2="459.80" y2="165.35" stroke="#666" stroke-width="0.85" />
<line x1="426.40" y1="165.35" x2="443.10" y2="165.35" stroke="#000" stroke-width="0.5" opacity="0.35"/>
<line x1="459.80" y1="164.55" x2="459.80" y2="166.15" stroke="#555" stroke-width="0.6" />
<rect x="412.80" y="167.55" width="27.00" height="2.20" fill="#b80f2e" />
<line x1="439.80" y1="168.65" x2="450.80" y2="168.65" stroke="#666" stroke-width="0.85" />
<line x1="428.80" y1="168.65" x2="439.80" y2="168.65" stroke="#000" stroke-width="0.5" opacity="0.35"/>
<line x1="450.80" y1="167.85" x2="450.80" y2="169.45" stroke="#555" stroke-width="0.6" />
<rect x="412.80" y="170.85" width="24.90" height="2.20" fill="#f4a03a" />
<line x1="437.70" y1="171.95" x2="445.90" y2="171.95" stroke="#666" stroke-width="0.85" />
<line x1="429.50" y1="171.95" x2="437.70" y2="171.95" stroke="#000" stroke-width="0.5" opacity="0.35"/>
<line x1="445.90" y1="171.15" x2="445.90" y2="172.75" stroke="#555" stroke-width="0.6" />
<line x1="409.30" y1="167.00" x2="412.80" y2="167.00" stroke="#1a1a1a" stroke-width="0.9" />
<text x="406.6" y="169.2" font-size="7.5" text-anchor="end" font-weight="normal" font-style="normal" fill="#1e1e1e" textLength="19.3" lengthAdjust="spacingAndGlyphs" stroke="#2a2a2a" stroke-width="0.12">MPP1</text>
<rect x="412.80" y="176.55" width="24.10" height="2.20" fill="#9a8fd6" />
<line x1="436.90" y1="177.65" x2="449.00" y2="177.65" stroke="#666" stroke-width="0.85" />
<line x1="424.80" y1="177.65" x2="436.90" y2="177.65" stroke="#000" stroke-width="0.5" opacity="0.35"/>
<line x1="449.00" y1="176.85" x2="449.00" y2="178.45" stroke="#555" stroke-width="0.6" />
<rect x="412.80" y="179.85" width="34.20" height="2.20" fill="#4b1660" />
<line x1="447.00" y1="180.95" x2="470.60" y2="180.95" stroke="#666" stroke-width="0.85" />
<line x1="423.40" y1="180.95" x2="447.00" y2="180.95" stroke="#000" stroke-width="0.5" opacity="0.35"/>
<line x1="470.60" y1="180.15" x2="470.60" y2="181.75" stroke="#555" stroke-width="0.6" />
<rect x="412.80" y="183.15" width="10.70" height="2.20" fill="#b80f2e" />
<line x1="423.50" y1="184.25" x2="426.80" y2="184.25" stroke="#666" stroke-width="0.85" />
<line x1="420.20" y1="184.25" x2="423.50" y2="184.25" stroke="#000" stroke-width="0.5" opacity="0.35"/>
<line x1="426.80" y1="183.45" x2="426.80" y2="185.05" stroke="#555" stroke-width="0.6" />
<rect x="412.80" y="186.45" width="11.40" height="2.20" fill="#f4a03a" />
<line x1="424.20" y1="187.55" x2="426.20" y2="187.55" stroke="#666" stroke-width="0.85" />
<line x1="422.20" y1="187.55" x2="424.20" y2="187.55" stroke="#000" stroke-width="0.5" opacity="0.35"/>
<line x1="426.20" y1="186.75" x2="426.20" y2="188.35" stroke="#555" stroke-width="0.6" />
<line x1="409.30" y1="182.60" x2="412.80" y2="182.60" stroke="#1a1a1a" stroke-width="0.9" />
<text x="406.6" y="180.4" font-size="7.5" text-anchor="end" font-weight="normal" font-style="normal" fill="#1e1e1e" textLength="10.0" lengthAdjust="spacingAndGlyphs" stroke="#2a2a2a" stroke-width="0.12">LT-</text>
<text x="406.6" y="188.6" font-size="7.5" text-anchor="end" font-weight="normal" font-style="normal" fill="#1e1e1e" textLength="14.2" lengthAdjust="spacingAndGlyphs" stroke="#2a2a2a" stroke-width="0.12">HSC</text>
<line x1="412.80" y1="18.40" x2="412.80" y2="190.20" stroke="#1a1a1a" stroke-width="1.45" />
<line x1="412.20" y1="189.60" x2="520.00" y2="189.60" stroke="#1a1a1a" stroke-width="1.3" />
<line x1="412.60" y1="189.60" x2="412.60" y2="192.30" stroke="#1a1a1a" stroke-width="0.9" />
<text x="412.90000000000003" y="203.0" font-size="7.9" text-anchor="middle" font-weight="normal" font-style="normal" fill="#1e1e1e" >0</text>
<line x1="433.20" y1="189.60" x2="433.20" y2="192.30" stroke="#1a1a1a" stroke-width="0.9" />
<text x="433.50000000000006" y="203.0" font-size="7.9" text-anchor="middle" font-weight="normal" font-style="normal" fill="#1e1e1e" >10</text>
<line x1="453.80" y1="189.60" x2="453.80" y2="192.30" stroke="#1a1a1a" stroke-width="0.9" />
<text x="454.1" y="203.0" font-size="7.9" text-anchor="middle" font-weight="normal" font-style="normal" fill="#1e1e1e" >20</text>
<line x1="474.40" y1="189.60" x2="474.40" y2="192.30" stroke="#1a1a1a" stroke-width="0.9" />
<text x="474.70000000000005" y="203.0" font-size="7.9" text-anchor="middle" font-weight="normal" font-style="normal" fill="#1e1e1e" >30</text>
<line x1="495.00" y1="189.60" x2="495.00" y2="192.30" stroke="#1a1a1a" stroke-width="0.9" />
<text x="495.3" y="203.0" font-size="7.9" text-anchor="middle" font-weight="normal" font-style="normal" fill="#1e1e1e" >40</text>
<line x1="515.60" y1="189.60" x2="515.60" y2="192.30" stroke="#1a1a1a" stroke-width="0.9" />
<text x="515.9" y="203.0" font-size="7.9" text-anchor="middle" font-weight="normal" font-style="normal" fill="#1e1e1e" >50</text>
<text x="464.3" y="216.8" font-size="10.4" text-anchor="middle" font-weight="normal" font-style="normal" fill="#1e1e1e" textLength="88.2" lengthAdjust="spacingAndGlyphs" stroke="#1e1e1e" stroke-width="0.2">%CD45.2 in indicated BM</text>
<text x="464.7" y="228.2" font-size="10.4" text-anchor="middle" font-weight="normal" font-style="normal" fill="#1e1e1e" textLength="65" lengthAdjust="spacingAndGlyphs" stroke="#1e1e1e" stroke-width="0.2">populations (W21)</text>
</svg>
</body></html>
